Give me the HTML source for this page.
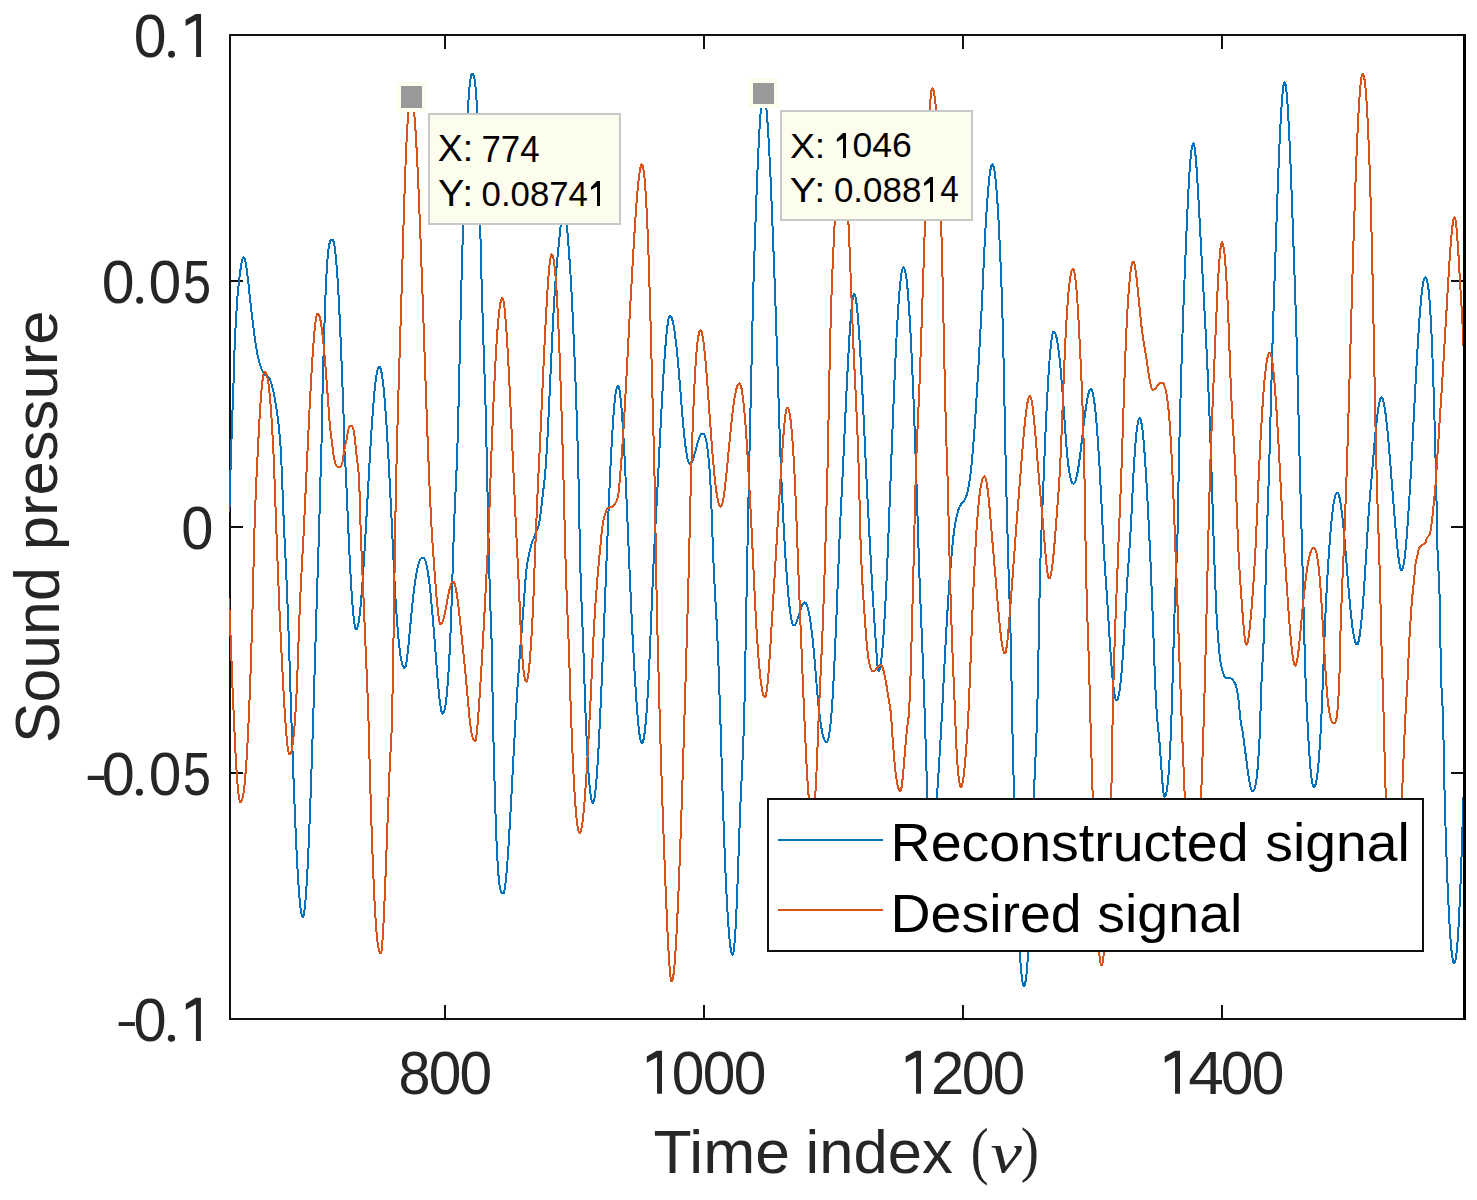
<!DOCTYPE html><html><head><meta charset="utf-8"><style>html,body{margin:0;padding:0;background:#fff;}svg{display:block;}</style></head><body><svg width="1477" height="1200" viewBox="0 0 1477 1200">
<rect width="1477" height="1200" fill="#fff"/>
<defs><clipPath id="pc"><rect x="229" y="35" width="1234" height="984"/></clipPath></defs>
<g fill="#101010" shape-rendering="crispEdges">
<rect x="229" y="34" width="1235" height="2"/>
<rect x="229" y="1018" width="1235" height="2"/>
<rect x="229" y="34" width="2" height="986"/>
<rect x="1463" y="34" width="3" height="986" fill="#000"/>
<rect x="231" y="280" width="12" height="2"/>
<rect x="1451" y="280" width="12" height="2"/>
<rect x="231" y="526" width="12" height="2"/>
<rect x="1451" y="526" width="12" height="2"/>
<rect x="231" y="772" width="12" height="2"/>
<rect x="1451" y="772" width="12" height="2"/>
<rect x="444" y="1005" width="2" height="13"/>
<rect x="444" y="36" width="2" height="13"/>
<rect x="703" y="1005" width="2" height="13"/>
<rect x="703" y="36" width="2" height="13"/>
<rect x="962" y="1005" width="2" height="13"/>
<rect x="962" y="36" width="2" height="13"/>
<rect x="1221" y="1005" width="2" height="13"/>
<rect x="1221" y="36" width="2" height="13"/>
</g>
<g clip-path="url(#pc)" fill="none" stroke-width="2.0" stroke-linejoin="round" shape-rendering="crispEdges">
<path stroke="#0072BD" d="M229.00 512.00L229.39 509.49L229.79 501.19L230.18 485.28L230.58 467.23L230.97 454.65L231.37 443.46L231.76 431.67L232.16 420.29L232.55 409.19L232.95 398.85L233.34 388.22L233.74 375.75L234.13 362.28L234.52 349.33L234.92 338.28L235.31 330.83L235.71 324.71L236.10 318.20L236.50 310.99L236.89 304.30L237.29 298.86L237.68 294.18L238.08 289.97L238.47 286.01L238.86 282.41L239.26 279.12L239.65 276.00L240.05 272.92L240.44 269.98L240.84 267.28L241.23 264.83L241.63 262.68L242.02 260.83L242.42 259.34L242.81 258.23L243.21 257.54L243.60 257.30L244.00 257.53L244.40 258.22L244.80 259.32L245.20 260.82L245.60 262.68L246.00 264.87L246.40 267.36L246.79 270.13L247.19 273.13L247.59 276.33L247.99 279.70L248.39 283.21L248.79 286.82L249.19 290.51L249.59 294.24L249.99 297.97L250.39 301.69L250.79 305.36L251.19 308.94L251.59 312.42L251.99 315.77L252.39 319.00L252.78 322.22L253.18 325.41L253.58 328.57L253.98 331.68L254.38 334.73L254.78 337.70L255.18 340.57L255.58 343.34L255.98 345.99L256.38 348.51L256.78 350.88L257.18 353.08L257.58 355.11L257.98 356.95L258.38 358.59L258.77 360.13L259.17 361.60L259.57 363.01L259.97 364.35L260.37 365.62L260.77 366.82L261.17 367.95L261.57 369.00L261.97 369.96L262.37 370.85L262.77 371.65L263.17 372.37L263.57 373.00L263.97 373.54L264.36 374.02L264.76 374.44L265.16 374.81L265.56 375.15L265.96 375.45L266.36 375.74L266.76 376.03L267.16 376.32L267.56 376.63L267.96 376.97L268.36 377.35L268.76 377.77L269.16 378.26L269.56 378.82L269.96 379.47L270.35 380.30L270.75 381.31L271.15 382.50L271.55 383.85L271.95 385.34L272.35 386.96L272.75 388.70L273.15 390.54L273.55 392.47L273.95 394.48L274.35 396.54L274.75 398.65L275.15 400.79L275.55 403.00L275.95 405.31L276.34 407.73L276.74 410.30L277.14 413.03L277.54 415.94L277.94 419.06L278.34 422.41L278.74 426.00L279.14 429.88L279.54 434.06L279.94 438.56L280.34 443.49L280.74 449.73L281.14 457.31L281.54 465.99L281.94 475.49L282.33 485.53L282.73 495.80L283.13 506.01L283.53 515.81L283.93 524.93L284.33 533.60L284.73 542.03L285.13 550.33L285.53 558.63L285.93 567.03L286.33 575.64L286.73 584.60L287.13 594.00L287.53 603.96L287.93 614.56L288.32 625.74L288.72 637.39L289.12 649.40L289.52 661.67L289.92 674.08L290.32 686.52L290.72 698.89L291.12 711.09L291.52 723.01L291.92 734.60L292.32 745.99L292.72 757.16L293.12 768.12L293.52 778.84L293.91 789.29L294.31 799.46L294.71 809.34L295.11 818.90L295.51 828.13L295.91 837.00L296.31 845.50L296.71 853.61L297.11 861.32L297.51 868.59L297.91 875.43L298.31 881.81L298.71 887.71L299.11 893.11L299.51 898.01L299.90 902.38L300.30 906.21L300.70 909.49L301.10 912.20L301.50 914.33L301.90 915.86L302.30 916.79L302.70 917.10L303.09 916.75L303.49 915.70L303.88 913.97L304.28 911.57L304.67 908.52L305.07 904.82L305.46 900.50L305.86 895.57L306.25 890.04L306.65 883.95L307.04 877.29L307.44 870.11L307.83 862.40L308.23 854.21L308.62 845.54L309.01 836.42L309.41 826.87L309.80 816.91L310.20 806.56L310.59 795.85L310.99 784.80L311.38 773.44L311.78 761.78L312.17 749.85L312.57 737.68L312.96 725.30L313.36 712.74L313.75 700.03L314.15 687.20L314.54 674.28L314.93 661.31L315.33 648.30L315.72 635.29L316.12 622.31L316.51 609.39L316.91 596.62L317.30 584.34L317.70 572.37L318.09 560.48L318.49 548.41L318.88 535.94L319.28 522.82L319.67 508.63L320.07 493.60L320.46 478.66L320.85 464.85L321.25 452.79L321.64 439.02L322.04 417.50L322.43 397.74L322.83 381.72L323.22 366.44L323.62 351.95L324.01 338.33L324.41 325.61L324.80 313.84L325.20 303.03L325.59 293.21L325.99 284.36L326.38 276.48L326.77 269.54L327.17 263.50L327.56 258.33L327.96 253.96L328.35 250.33L328.75 247.39L329.14 245.05L329.54 243.26L329.93 241.92L330.33 240.96L330.72 240.33L331.12 239.93L331.51 239.72L331.91 239.62L332.30 239.60L332.70 239.80L333.10 240.42L333.50 241.48L333.90 242.98L334.30 244.94L334.69 247.37L335.09 250.28L335.49 253.67L335.89 257.56L336.29 261.93L336.69 266.80L337.09 272.16L337.49 278.00L337.89 284.32L338.29 291.11L338.69 298.35L339.09 306.03L339.49 314.14L339.88 322.65L340.28 331.54L340.68 340.78L341.08 350.35L341.48 360.23L341.88 370.37L342.28 380.76L342.68 391.34L343.08 402.07L343.48 412.87L343.88 427.67L344.27 446.01L344.67 454.59L345.07 460.51L345.47 466.09L345.87 473.39L346.27 481.93L346.67 491.11L347.07 500.61L347.47 510.09L347.87 519.27L348.27 528.12L348.67 536.83L349.06 545.36L349.46 553.65L349.86 561.66L350.26 569.33L350.66 576.63L351.06 583.52L351.46 589.99L351.86 596.03L352.26 601.62L352.66 606.75L353.06 611.39L353.46 615.53L353.86 619.15L354.25 622.25L354.65 624.80L355.05 626.80L355.45 628.24L355.85 629.11L356.25 629.40L356.65 629.20L357.04 628.60L357.44 627.60L357.83 626.20L358.23 624.41L358.62 622.24L359.02 619.68L359.42 616.76L359.81 613.48L360.21 609.84L360.60 605.87L361.00 601.57L361.39 596.95L361.79 592.03L362.19 586.83L362.58 581.36L362.98 575.63L363.37 569.65L363.77 563.46L364.16 557.06L364.56 550.49L364.96 543.78L365.35 536.95L365.75 530.02L366.14 523.02L366.54 515.98L366.93 508.89L367.33 501.77L367.73 494.65L368.12 487.54L368.52 480.47L368.91 473.46L369.31 466.53L369.70 459.70L370.10 452.98L370.49 446.41L370.89 439.99L371.29 433.74L371.68 427.69L372.08 421.85L372.47 416.23L372.87 410.85L373.26 405.73L373.66 400.88L374.06 396.32L374.45 392.04L374.85 388.08L375.24 384.42L375.64 381.10L376.03 378.10L376.43 375.44L376.83 373.13L377.22 371.17L377.62 369.56L378.01 368.31L378.41 367.41L378.80 366.88L379.20 366.70L379.60 366.87L379.99 367.38L380.39 368.23L380.79 369.43L381.18 370.99L381.58 372.90L381.98 375.17L382.38 377.79L382.77 380.76L383.17 384.09L383.57 387.76L383.96 391.77L384.36 396.13L384.76 400.81L385.15 405.81L385.55 411.12L385.95 416.73L386.34 422.63L386.74 428.80L387.14 435.23L387.53 441.91L387.93 448.81L388.33 455.93L388.73 463.23L389.12 470.71L389.52 478.34L389.92 486.10L390.31 493.97L390.71 501.92L391.11 509.94L391.50 518.00L391.90 526.10L392.30 534.42L392.69 542.88L393.09 551.39L393.49 559.84L393.88 568.13L394.28 576.18L394.68 583.90L395.07 591.21L395.47 598.04L395.87 604.36L396.27 610.32L396.66 616.00L397.06 621.41L397.46 626.52L397.85 631.34L398.25 635.85L398.65 640.05L399.04 643.94L399.44 647.51L399.84 650.78L400.23 653.74L400.63 656.39L401.03 658.74L401.43 660.79L401.82 662.56L402.22 664.06L402.62 665.29L403.01 666.27L403.41 667.00L403.81 667.51L404.20 667.81L404.60 667.90L405.00 667.61L405.40 666.77L405.79 665.39L406.19 663.51L406.59 661.16L406.99 658.40L407.38 655.27L407.78 651.82L408.18 648.09L408.58 644.14L408.98 640.03L409.37 635.79L409.77 631.49L410.17 627.16L410.57 622.85L410.97 618.60L411.36 614.44L411.76 610.40L412.16 606.50L412.56 602.78L412.95 599.18L413.35 595.67L413.75 592.27L414.15 589.00L414.55 585.87L414.94 582.88L415.34 580.06L415.74 577.40L416.14 574.92L416.53 572.61L416.93 570.48L417.33 568.53L417.73 566.76L418.13 565.17L418.52 563.75L418.92 562.50L419.32 561.41L419.72 560.48L420.12 559.70L420.51 559.05L420.91 558.53L421.31 558.13L421.71 557.84L422.10 557.64L422.50 557.53L422.90 557.50L423.30 557.58L423.69 557.82L424.09 558.24L424.48 558.84L424.88 559.63L425.28 560.61L425.67 561.79L426.07 563.18L426.46 564.77L426.86 566.58L427.26 568.61L427.65 570.86L428.05 573.32L428.44 576.00L428.84 578.89L429.24 581.99L429.63 585.30L430.03 588.81L430.42 592.52L430.82 596.40L431.22 600.47L431.61 604.69L432.01 609.07L432.40 613.58L432.80 618.21L433.20 622.94L433.59 627.77L433.99 632.71L434.38 637.73L434.78 642.82L435.18 647.96L435.57 653.10L435.97 658.24L436.36 663.33L436.76 668.36L437.16 673.28L437.55 678.07L437.95 682.69L438.34 687.12L438.74 691.31L439.14 695.24L439.53 698.87L439.93 702.17L440.32 705.12L440.72 707.67L441.12 709.81L441.51 711.51L441.91 712.74L442.30 713.50L442.70 713.75L443.10 713.60L443.49 713.15L443.89 712.36L444.28 711.21L444.68 709.69L445.08 707.77L445.47 705.44L445.87 702.67L446.26 699.45L446.66 695.76L447.06 691.60L447.45 686.95L447.85 681.81L448.24 676.16L448.64 670.01L449.04 663.35L449.43 656.18L449.83 648.51L450.22 640.23L450.62 630.87L451.01 620.44L451.41 609.10L451.81 597.00L452.20 584.36L452.60 571.42L452.99 558.45L453.39 545.77L453.79 533.66L454.18 522.47L454.58 512.43L454.97 503.35L455.37 494.89L455.77 486.69L456.16 478.35L456.56 469.48L456.95 459.67L457.35 448.50L457.75 435.63L458.14 421.20L458.54 405.50L458.93 388.85L459.33 371.55L459.73 353.95L460.12 336.38L460.52 319.17L460.91 302.63L461.31 287.07L461.71 272.61L462.10 258.75L462.50 245.39L462.89 232.51L463.29 220.10L463.69 208.17L464.08 196.71L464.48 185.70L464.87 175.14L465.27 165.04L465.66 155.38L466.06 146.17L466.46 137.42L466.85 129.13L467.25 121.31L467.64 113.99L468.04 107.19L468.44 100.97L468.83 95.36L469.23 90.37L469.62 86.00L470.02 82.29L470.42 79.23L470.81 76.84L471.21 75.13L471.60 74.10L472.00 73.75L472.40 73.82L472.79 74.10L473.19 74.64L473.58 75.53L473.98 76.84L474.38 78.65L474.77 81.03L475.17 84.04L475.57 87.74L475.96 92.17L476.36 97.38L476.75 103.39L477.15 110.22L477.55 118.17L477.94 128.49L478.34 141.28L478.74 156.38L479.13 173.45L479.53 191.97L479.92 211.21L480.32 230.32L480.72 248.34L481.11 264.33L481.51 279.04L481.91 293.03L482.30 306.41L482.70 319.36L483.09 332.05L483.49 344.68L483.89 356.72L484.28 367.86L484.68 378.79L485.07 390.25L485.47 402.96L485.87 417.78L486.26 434.90L486.66 453.22L487.06 471.56L487.45 489.21L487.85 507.23L488.24 525.35L488.64 543.17L489.04 560.31L489.43 576.38L489.83 591.02L490.23 603.24L490.62 613.59L491.02 623.65L491.41 634.92L491.81 648.84L492.21 669.91L492.60 697.87L493.00 719.42L493.39 736.68L493.79 753.16L494.19 768.79L494.58 783.50L494.98 797.25L495.38 810.00L495.77 821.74L496.17 832.44L496.56 842.12L496.96 850.79L497.36 858.46L497.75 865.18L498.15 870.98L498.55 875.93L498.94 880.08L499.34 883.49L499.73 886.24L500.13 888.41L500.53 890.06L500.92 891.27L501.32 892.13L501.72 892.69L502.11 893.03L502.51 893.21L502.90 893.28L503.30 893.30L503.70 892.95L504.10 891.93L504.49 890.27L504.89 888.01L505.29 885.19L505.69 881.84L506.08 877.99L506.48 873.70L506.88 868.98L507.28 863.87L507.67 858.41L508.07 852.64L508.47 846.57L508.87 840.25L509.27 833.70L509.66 826.95L510.06 820.04L510.46 812.98L510.86 805.79L511.25 798.52L511.65 791.17L512.05 783.78L512.45 776.35L512.84 768.92L513.24 761.49L513.64 754.09L514.04 746.73L514.44 739.43L514.83 732.20L515.23 725.05L515.63 718.01L516.03 711.09L516.42 704.44L516.82 698.05L517.22 691.89L517.62 685.93L518.01 680.14L518.41 674.48L518.81 668.92L519.21 663.42L519.61 657.95L520.00 652.45L520.40 647.07L520.80 641.88L521.20 636.84L521.59 631.89L521.99 626.95L522.39 621.96L522.79 616.86L523.18 611.57L523.58 605.99L523.98 600.27L524.38 594.69L524.78 589.08L525.17 583.68L525.57 578.72L525.97 574.35L526.37 570.30L526.76 566.77L527.16 563.92L527.56 561.49L527.96 559.33L528.35 557.37L528.75 555.53L529.15 553.75L529.55 551.97L529.95 550.25L530.34 548.60L530.74 547.04L531.14 545.57L531.54 544.21L531.93 542.96L532.33 541.81L532.73 540.73L533.13 539.70L533.52 538.71L533.92 537.73L534.32 536.74L534.72 535.72L535.12 534.66L535.51 533.61L535.91 532.62L536.31 531.67L536.71 530.72L537.10 529.75L537.50 528.72L537.90 527.60L538.30 526.37L538.70 525.00L539.09 523.45L539.49 521.56L539.89 519.05L540.29 516.13L540.68 513.01L541.08 509.83L541.48 506.33L541.88 502.60L542.27 498.84L542.67 495.24L543.07 491.94L543.47 488.82L543.87 485.66L544.26 482.26L544.66 478.51L545.06 474.46L545.46 469.86L545.85 464.51L546.25 458.61L546.65 452.22L547.05 445.40L547.44 438.17L547.84 430.60L548.24 422.74L548.64 414.62L549.04 406.31L549.43 397.84L549.83 389.28L550.23 380.67L550.63 372.04L551.02 363.46L551.42 354.97L551.82 346.60L552.22 338.40L552.61 330.40L553.01 322.63L553.41 315.14L553.81 307.94L554.21 301.06L554.60 294.52L555.00 288.34L555.40 282.52L555.80 277.11L556.19 272.08L556.59 267.35L556.99 262.86L557.39 258.55L557.78 254.37L558.18 250.28L558.58 246.25L558.98 242.24L559.38 238.24L559.77 234.24L560.17 230.26L560.57 226.31L560.97 222.37L561.36 218.49L561.76 214.83L562.16 211.56L562.56 208.82L562.95 206.75L563.35 205.45L563.75 205.00L564.15 205.41L564.55 206.60L564.95 208.52L565.35 211.11L565.75 214.30L566.15 217.99L566.55 222.09L566.94 226.50L567.34 231.15L567.74 235.99L568.14 241.00L568.54 246.16L568.94 251.49L569.34 256.99L569.74 262.71L570.14 268.67L570.54 274.92L570.94 281.52L571.34 288.52L571.74 296.01L572.14 304.04L572.53 312.40L572.93 320.91L573.33 329.59L573.73 338.47L574.13 347.61L574.53 357.04L574.93 366.80L575.33 376.95L575.73 387.55L576.13 398.64L576.53 410.28L576.93 422.53L577.33 435.44L577.73 449.07L578.13 463.46L578.52 479.18L578.92 498.08L579.32 518.74L579.72 539.32L580.12 558.02L580.52 573.23L580.92 585.99L581.32 597.28L581.72 607.58L582.12 617.33L582.52 626.94L582.92 636.83L583.32 647.36L583.72 658.84L584.12 671.17L584.51 683.76L584.91 696.03L585.31 707.50L585.71 717.78L586.11 727.30L586.51 736.28L586.91 744.70L587.31 752.55L587.71 759.81L588.11 766.49L588.51 772.58L588.91 778.08L589.31 783.00L589.71 787.33L590.10 791.10L590.50 794.30L590.90 796.96L591.30 799.09L591.70 800.70L592.10 801.83L592.50 802.49L592.90 802.70L593.30 802.40L593.69 801.51L594.09 800.04L594.49 798.00L594.88 795.40L595.28 792.25L595.68 788.57L596.07 784.38L596.47 779.69L596.87 774.52L597.27 768.90L597.66 762.83L598.06 756.34L598.46 749.45L598.85 742.18L599.25 734.56L599.65 726.61L600.04 718.35L600.44 709.82L600.84 701.08L601.23 692.14L601.63 683.04L602.03 673.78L602.42 664.36L602.82 654.81L603.22 645.13L603.61 635.34L604.01 625.43L604.41 615.42L604.80 605.31L605.20 595.12L605.60 584.86L606.00 574.57L606.39 564.30L606.79 554.06L607.19 543.90L607.58 533.86L607.98 523.97L608.38 514.26L608.77 504.76L609.17 495.51L609.57 486.54L609.96 477.85L610.36 469.45L610.76 461.37L611.15 453.60L611.55 446.19L611.95 439.14L612.34 432.47L612.74 426.20L613.14 420.33L613.53 414.89L613.93 409.89L614.33 405.33L614.73 401.22L615.12 397.58L615.52 394.42L615.92 391.73L616.31 389.53L616.71 387.81L617.11 386.58L617.50 385.85L617.90 385.60L618.30 385.89L618.70 386.74L619.10 388.16L619.50 390.13L619.90 392.64L620.30 395.69L620.70 399.26L621.10 403.34L621.50 407.91L621.90 412.95L622.30 418.44L622.70 424.38L623.10 430.73L623.50 437.47L623.90 444.59L624.30 452.05L624.70 459.84L625.10 467.93L625.50 476.31L625.90 484.97L626.30 493.88L626.70 503.01L627.10 512.30L627.50 521.72L627.90 531.23L628.30 540.79L628.70 550.34L629.10 559.86L629.50 569.29L629.90 578.59L630.30 587.74L630.70 596.69L631.10 605.41L631.50 613.89L631.90 622.16L632.30 630.20L632.70 638.02L633.10 645.63L633.50 653.03L633.90 660.22L634.30 667.20L634.70 673.98L635.10 680.55L635.50 686.90L635.90 693.03L636.30 698.94L636.70 704.60L637.10 709.97L637.50 715.01L637.90 719.70L638.30 724.01L638.70 727.92L639.10 731.43L639.50 734.51L639.90 737.16L640.30 739.34L640.70 741.06L641.10 742.30L641.50 743.05L641.90 743.30L642.30 743.08L642.69 742.42L643.09 741.31L643.48 739.75L643.88 737.75L644.27 735.28L644.67 732.36L645.07 728.99L645.46 725.17L645.86 720.89L646.25 716.17L646.65 711.01L647.05 705.41L647.44 699.33L647.84 692.69L648.23 685.52L648.63 677.83L649.02 669.68L649.42 661.10L649.82 652.16L650.21 642.92L650.61 633.45L651.00 623.82L651.40 614.12L651.79 604.42L652.19 594.81L652.59 585.36L652.98 576.16L653.38 567.29L653.77 558.78L654.17 550.58L654.56 542.67L654.96 534.98L655.36 527.47L655.75 520.09L656.15 512.78L656.54 505.49L656.94 498.16L657.34 490.75L657.73 483.21L658.13 475.49L658.52 467.54L658.92 459.51L659.31 451.53L659.71 443.62L660.11 435.79L660.50 428.06L660.90 420.44L661.29 412.95L661.69 405.61L662.08 398.42L662.48 391.42L662.88 384.61L663.27 378.01L663.67 371.64L664.06 365.52L664.46 359.67L664.85 354.10L665.25 348.84L665.65 343.89L666.04 339.29L666.44 335.05L666.83 331.18L667.23 327.70L667.63 324.64L668.02 322.00L668.42 319.81L668.81 318.07L669.21 316.82L669.60 316.06L670.00 315.80L670.40 315.91L670.79 316.26L671.19 316.84L671.58 317.65L671.98 318.71L672.38 320.00L672.77 321.54L673.17 323.32L673.56 325.34L673.96 327.59L674.36 330.08L674.75 332.79L675.15 335.72L675.54 338.87L675.94 342.21L676.34 345.76L676.73 349.49L677.13 353.39L677.52 357.44L677.92 361.65L678.32 365.98L678.71 370.45L679.11 375.06L679.50 379.79L679.90 384.62L680.30 389.51L680.69 394.43L681.09 399.36L681.48 404.27L681.88 409.12L682.28 413.89L682.67 418.55L683.07 423.06L683.46 427.41L683.86 431.57L684.26 435.51L684.65 439.22L685.05 442.71L685.44 445.96L685.84 448.96L686.24 451.72L686.63 454.20L687.03 456.42L687.42 458.35L687.82 459.99L688.22 461.34L688.61 462.39L689.01 463.15L689.40 463.60L689.80 463.75L690.19 463.68L690.58 463.46L690.97 463.10L691.36 462.60L691.75 461.96L692.14 461.20L692.53 460.32L692.92 459.32L693.32 458.22L693.71 457.03L694.10 455.75L694.49 454.41L694.88 453.02L695.27 451.58L695.66 450.11L696.05 448.62L696.44 447.14L696.83 445.67L697.22 444.23L697.61 442.84L698.00 441.50L698.39 440.22L698.78 439.03L699.17 437.93L699.57 436.93L699.96 436.05L700.35 435.29L700.74 434.65L701.13 434.15L701.52 433.79L701.91 433.57L702.30 433.50L702.69 433.53L703.09 433.65L703.48 433.88L703.88 434.24L704.27 434.77L704.67 435.50L705.06 436.44L705.46 437.64L705.85 439.10L706.25 440.86L706.64 442.94L707.04 445.35L707.43 448.11L707.83 451.25L708.22 454.75L708.62 458.64L709.01 462.92L709.41 467.58L709.80 472.74L710.20 479.09L710.59 486.69L710.99 495.47L711.38 505.26L711.78 515.84L712.17 526.94L712.56 538.20L712.96 549.25L713.35 559.66L713.75 568.99L714.14 577.23L714.54 584.79L714.93 591.85L715.33 598.63L715.72 605.34L716.12 612.23L716.51 619.53L716.91 627.50L717.30 636.32L717.70 645.74L718.09 655.64L718.49 666.00L718.88 676.77L719.28 687.90L719.67 699.33L720.07 711.00L720.46 723.00L720.86 735.63L721.25 748.72L721.65 762.01L722.04 775.29L722.44 788.32L722.83 800.89L723.22 812.81L723.62 824.09L724.01 834.98L724.41 845.48L724.80 855.57L725.20 865.22L725.59 874.42L725.99 883.17L726.38 891.43L726.78 899.21L727.17 906.49L727.57 913.27L727.96 919.53L728.36 925.28L728.75 930.52L729.15 935.23L729.54 939.42L729.94 943.09L730.33 946.24L730.73 948.86L731.12 950.99L731.52 952.63L731.91 953.79L732.31 954.47L732.70 954.70L733.10 954.13L733.50 952.44L733.90 949.68L734.30 945.93L734.70 941.29L735.10 935.79L735.50 929.33L735.90 921.93L736.30 913.65L736.70 904.56L737.10 894.76L737.50 884.37L737.90 873.51L738.30 862.33L738.70 850.99L739.10 839.65L739.50 828.47L739.90 817.64L740.30 807.41L740.70 798.04L741.10 789.33L741.50 781.07L741.90 772.99L742.30 764.82L742.70 756.25L743.10 746.98L743.50 736.66L743.90 724.94L744.30 711.36L744.70 694.28L745.10 674.06L745.50 652.01L745.90 629.56L746.30 608.23L746.70 587.58L747.10 566.92L747.50 546.42L747.90 526.29L748.30 506.70L748.70 487.79L749.10 469.49L749.50 451.68L749.90 434.25L750.30 417.05L750.70 399.98L751.10 382.94L751.50 365.80L751.90 348.35L752.30 330.78L752.70 313.63L753.10 297.39L753.50 282.50L753.90 269.12L754.30 256.87L754.70 245.31L755.10 234.08L755.50 222.84L755.90 211.54L756.30 200.60L756.70 190.06L757.10 179.94L757.50 170.27L757.90 161.05L758.30 152.32L758.70 144.10L759.10 136.40L759.50 129.25L759.90 122.67L760.30 116.69L760.70 111.33L761.10 106.60L761.50 102.54L761.90 99.17L762.30 96.50L762.70 94.57L763.10 93.40L763.50 93.00L763.90 93.31L764.30 94.22L764.69 95.73L765.09 97.83L765.49 100.51L765.89 103.75L766.29 107.53L766.68 111.86L767.08 116.70L767.48 122.04L767.88 127.87L768.28 134.17L768.67 140.92L769.07 148.11L769.47 155.71L769.87 163.71L770.27 172.08L770.66 180.81L771.06 189.88L771.46 199.26L771.86 208.94L772.26 218.90L772.65 229.05L773.05 239.33L773.45 249.74L773.85 260.29L774.25 271.02L774.64 281.94L775.04 293.09L775.44 304.48L775.84 316.07L776.24 327.80L776.63 339.66L777.03 351.63L777.43 363.70L777.83 375.96L778.23 388.50L778.62 401.16L779.02 413.75L779.42 426.09L779.82 438.01L780.22 449.36L780.62 459.99L781.01 469.94L781.41 479.37L781.81 488.35L782.21 496.93L782.61 505.17L783.00 513.14L783.40 520.88L783.80 528.43L784.20 535.71L784.60 542.68L784.99 549.34L785.39 555.72L785.79 561.83L786.19 567.67L786.59 573.26L786.98 578.61L787.38 583.71L787.78 588.58L788.18 593.19L788.58 597.52L788.97 601.56L789.37 605.29L789.77 608.73L790.17 611.85L790.57 614.67L790.96 617.16L791.36 619.33L791.76 621.18L792.16 622.69L792.56 623.87L792.95 624.72L793.35 625.23L793.75 625.40L794.14 625.33L794.52 625.11L794.91 624.76L795.30 624.27L795.69 623.64L796.08 622.90L796.46 622.05L796.85 621.09L797.24 620.04L797.62 618.92L798.01 617.73L798.40 616.50L798.79 615.23L799.17 613.95L799.56 612.67L799.95 611.40L800.34 610.17L800.73 608.98L801.11 607.86L801.50 606.81L801.89 605.85L802.27 605.00L802.66 604.26L803.05 603.63L803.44 603.14L803.83 602.79L804.21 602.57L804.60 602.50L805.00 602.58L805.40 602.81L805.79 603.21L806.19 603.79L806.59 604.54L806.99 605.48L807.39 606.61L807.79 607.93L808.18 609.45L808.58 611.16L808.98 613.07L809.38 615.19L809.78 617.50L810.17 620.00L810.57 622.70L810.97 625.59L811.37 628.65L811.77 631.90L812.17 635.31L812.56 638.87L812.96 642.59L813.36 646.53L813.76 650.71L814.16 655.12L814.55 659.71L814.95 664.44L815.35 669.27L815.75 674.15L816.15 679.04L816.55 683.89L816.94 688.65L817.34 693.27L817.74 697.72L818.14 701.96L818.54 705.95L818.93 709.68L819.33 713.12L819.73 716.36L820.13 719.42L820.53 722.29L820.93 724.97L821.32 727.46L821.72 729.74L822.12 731.82L822.52 733.70L822.92 735.38L823.31 736.86L823.71 738.14L824.11 739.24L824.51 740.14L824.91 740.87L825.31 741.42L825.70 741.80L826.10 742.03L826.50 742.10L826.90 741.95L827.29 741.49L827.69 740.69L828.08 739.55L828.48 738.04L828.87 736.16L829.27 733.89L829.67 731.21L830.06 728.12L830.46 724.61L830.85 720.68L831.25 716.31L831.64 711.51L832.04 706.22L832.44 700.33L832.83 693.88L833.23 686.87L833.62 679.35L834.02 671.38L834.41 663.00L834.81 654.31L835.21 645.37L835.60 636.29L836.00 627.10L836.39 617.60L836.79 607.82L837.18 597.82L837.58 587.68L837.98 577.48L838.37 567.30L838.77 557.24L839.16 547.37L839.56 537.78L839.95 528.54L840.35 519.81L840.75 511.62L841.14 503.81L841.54 496.22L841.93 488.66L842.33 480.97L842.72 472.99L843.12 464.56L843.52 455.88L843.91 447.21L844.31 438.55L844.70 429.94L845.10 421.37L845.49 412.87L845.89 404.47L846.29 396.18L846.68 388.02L847.08 380.02L847.47 372.20L847.87 364.59L848.26 357.20L848.66 350.08L849.06 343.24L849.45 336.71L849.85 330.52L850.24 324.71L850.64 319.30L851.03 314.33L851.43 309.82L851.83 305.81L852.22 302.33L852.62 299.41L853.01 297.09L853.41 295.39L853.80 294.35L854.20 294.00L854.60 294.30L855.00 295.17L855.40 296.62L855.79 298.61L856.19 301.13L856.59 304.16L856.99 307.68L857.39 311.66L857.79 316.10L858.18 320.95L858.58 326.21L858.98 331.84L859.38 337.82L859.78 344.14L860.18 350.76L860.57 357.66L860.97 364.82L861.37 372.22L861.77 379.83L862.17 387.62L862.57 395.59L862.96 403.69L863.36 411.92L863.76 420.25L864.16 428.66L864.56 437.13L864.96 445.64L865.35 454.17L865.75 462.70L866.15 471.21L866.55 479.51L866.95 487.60L867.35 495.50L867.74 503.24L868.14 510.85L868.54 518.36L868.94 525.81L869.34 533.22L869.74 540.61L870.13 548.02L870.53 555.46L870.93 562.95L871.33 570.50L871.73 577.81L872.13 584.79L872.52 591.50L872.92 598.02L873.32 604.39L873.72 610.66L874.12 616.87L874.52 623.03L874.91 629.16L875.31 635.23L875.71 641.20L876.11 647.03L876.51 652.61L876.91 658.13L877.30 663.32L877.70 667.55L878.10 670.30L878.50 671.25L878.90 671.03L879.29 670.37L879.69 669.25L880.09 667.68L880.48 665.66L880.88 663.17L881.28 660.23L881.67 656.82L882.07 652.96L882.47 648.65L882.87 643.89L883.26 638.69L883.66 633.06L884.06 626.99L884.45 620.49L884.85 613.56L885.25 606.23L885.64 598.51L886.04 590.42L886.44 581.98L886.83 573.22L887.23 564.16L887.63 554.85L888.02 545.29L888.42 535.45L888.82 525.36L889.21 515.07L889.61 504.65L890.01 494.15L890.40 483.64L890.80 473.19L891.20 462.83L891.60 452.53L891.99 442.28L892.39 432.12L892.79 422.07L893.18 412.16L893.58 402.41L893.98 392.84L894.37 383.50L894.77 374.38L895.17 365.53L895.56 356.96L895.96 348.68L896.36 340.73L896.75 333.12L897.15 325.86L897.55 318.98L897.94 312.48L898.34 306.38L898.74 300.70L899.13 295.44L899.53 290.62L899.93 286.24L900.33 282.31L900.72 278.84L901.12 275.82L901.52 273.27L901.91 271.19L902.31 269.57L902.71 268.42L903.10 267.73L903.50 267.50L903.90 267.70L904.30 268.30L904.70 269.32L905.09 270.75L905.49 272.61L905.89 274.89L906.29 277.61L906.69 280.75L907.09 284.34L907.49 288.36L907.88 292.81L908.28 297.70L908.68 303.02L909.08 308.78L909.48 314.95L909.88 321.55L910.28 328.55L910.67 335.97L911.07 343.78L911.47 351.97L911.87 360.54L912.27 369.48L912.67 378.76L913.07 388.39L913.47 398.33L913.86 408.58L914.26 419.12L914.66 429.94L915.06 441.00L915.46 452.30L915.86 463.82L916.26 475.62L916.65 487.97L917.05 500.74L917.45 513.74L917.85 526.81L918.25 539.74L918.65 552.36L919.05 564.48L919.44 575.94L919.84 586.74L920.24 597.03L920.64 606.94L921.04 616.61L921.44 626.17L921.84 635.77L922.23 645.54L922.63 655.58L923.03 666.01L923.43 676.93L923.83 688.21L924.23 699.77L924.63 711.59L925.03 723.59L925.42 735.72L925.82 748.40L926.22 761.44L926.62 774.14L927.02 785.92L927.42 796.33L927.82 805.36L928.21 813.52L928.61 820.82L929.01 827.27L929.41 832.87L929.81 837.63L930.21 841.57L930.61 844.72L931.00 847.09L931.40 848.74L931.80 849.69L932.20 850.00L932.60 849.46L933.00 847.90L933.39 845.41L933.79 842.08L934.19 838.01L934.59 833.29L934.99 828.03L935.38 822.32L935.78 816.27L936.18 809.98L936.58 803.55L936.98 797.06L937.37 790.61L937.77 784.21L938.17 777.87L938.57 771.57L938.97 765.28L939.36 758.98L939.76 752.61L940.16 746.11L940.56 739.42L940.96 732.48L941.35 725.26L941.75 717.84L942.15 710.25L942.55 702.53L942.95 694.71L943.34 686.83L943.74 678.93L944.14 671.07L944.54 663.28L944.94 655.60L945.33 648.09L945.73 640.80L946.13 633.76L946.53 626.96L946.93 620.25L947.32 613.65L947.72 607.19L948.12 600.88L948.52 594.75L948.92 588.83L949.31 583.14L949.71 577.71L950.11 572.56L950.51 567.70L950.91 562.97L951.30 558.32L951.70 553.79L952.10 549.41L952.50 545.22L952.90 541.24L953.29 537.52L953.69 534.09L954.09 530.97L954.49 528.21L954.89 525.75L955.28 523.42L955.68 521.20L956.08 519.11L956.48 517.15L956.88 515.32L957.27 513.64L957.67 512.10L958.07 510.73L958.47 509.51L958.87 508.46L959.26 507.53L959.66 506.70L960.06 505.96L960.46 505.29L960.86 504.68L961.25 504.13L961.65 503.60L962.05 503.11L962.45 502.63L962.85 502.14L963.25 501.65L963.64 501.13L964.04 500.57L964.44 499.97L964.84 499.30L965.24 498.56L965.63 497.73L966.03 496.81L966.43 495.75L966.83 494.47L967.23 492.95L967.62 491.23L968.02 489.33L968.42 487.27L968.82 485.08L969.22 482.79L969.61 480.39L970.01 477.70L970.41 474.71L970.81 471.43L971.21 467.84L971.60 463.97L972.00 459.84L972.40 455.47L972.80 450.87L973.20 446.04L973.59 441.01L973.99 435.77L974.39 430.33L974.79 424.70L975.19 418.89L975.58 412.92L975.98 406.78L976.38 400.50L976.78 394.08L977.18 387.53L977.57 380.87L977.97 374.11L978.37 367.26L978.77 360.33L979.17 353.33L979.56 346.28L979.96 339.20L980.36 332.08L980.76 324.96L981.16 317.62L981.55 309.83L981.95 301.67L982.35 293.26L982.75 284.69L983.15 276.06L983.54 267.47L983.94 259.01L984.34 250.75L984.74 242.77L985.14 235.14L985.53 227.90L985.93 221.12L986.33 214.74L986.73 208.69L987.13 202.95L987.52 197.56L987.92 192.52L988.32 187.85L988.72 183.56L989.12 179.67L989.51 176.19L989.91 173.13L990.31 170.51L990.71 168.34L991.11 166.63L991.50 165.40L991.90 164.65L992.30 164.40L992.70 164.61L993.09 165.25L993.49 166.33L993.88 167.85L994.28 169.82L994.68 172.25L995.07 175.15L995.47 178.51L995.87 182.35L996.26 186.66L996.66 191.46L997.05 196.73L997.45 202.48L997.85 208.71L998.24 215.41L998.64 222.58L999.04 230.10L999.43 237.97L999.83 246.23L1000.22 254.94L1000.62 264.15L1001.02 273.95L1001.41 284.42L1001.81 295.65L1002.21 307.75L1002.60 320.82L1003.00 335.31L1003.39 351.85L1003.79 370.08L1004.19 389.49L1004.58 409.52L1004.98 429.55L1005.38 448.88L1005.77 466.82L1006.17 483.30L1006.56 498.97L1006.96 514.01L1007.36 528.62L1007.75 543.01L1008.15 557.05L1008.55 569.94L1008.94 582.05L1009.34 593.92L1009.74 606.06L1010.13 618.98L1010.53 633.19L1010.92 649.18L1011.32 669.16L1011.72 693.34L1012.11 715.62L1012.51 734.25L1012.90 751.40L1013.30 767.45L1013.70 782.79L1014.09 797.76L1014.49 812.41L1014.89 826.50L1015.28 840.03L1015.68 853.00L1016.08 865.38L1016.47 877.19L1016.87 888.40L1017.26 899.02L1017.66 909.04L1018.06 918.45L1018.45 927.26L1018.85 935.46L1019.25 943.04L1019.64 950.02L1020.04 956.37L1020.43 962.09L1020.83 967.19L1021.23 971.66L1021.62 975.51L1022.02 978.75L1022.41 981.38L1022.81 983.42L1023.21 984.86L1023.60 985.72L1024.00 986.00L1024.40 985.70L1024.79 984.79L1025.19 983.26L1025.59 981.11L1025.98 978.33L1026.38 974.92L1026.78 970.86L1027.17 966.16L1027.57 960.82L1027.97 954.83L1028.36 948.17L1028.76 940.68L1029.16 932.33L1029.55 923.16L1029.95 913.20L1030.35 902.53L1030.74 891.26L1031.14 879.47L1031.54 867.31L1031.93 854.91L1032.33 842.42L1032.73 830.00L1033.12 817.81L1033.52 806.00L1033.92 794.78L1034.31 784.55L1034.71 775.14L1035.11 766.22L1035.50 757.42L1035.90 748.33L1036.30 738.57L1036.69 727.71L1037.09 715.34L1037.49 700.29L1037.88 682.24L1038.28 662.14L1038.68 641.02L1039.07 619.92L1039.47 599.88L1039.87 581.88L1040.26 566.80L1040.66 553.91L1041.06 542.26L1041.45 531.55L1041.85 521.49L1042.25 511.78L1042.64 502.17L1043.04 492.40L1043.44 482.29L1043.83 472.25L1044.23 462.44L1044.63 452.87L1045.02 443.55L1045.42 434.51L1045.82 425.75L1046.21 417.29L1046.61 409.15L1047.01 401.33L1047.40 393.86L1047.80 386.74L1048.20 379.99L1048.59 373.63L1048.99 367.66L1049.39 362.11L1049.78 356.97L1050.18 352.27L1050.58 348.02L1050.97 344.23L1051.37 340.91L1051.77 338.08L1052.16 335.73L1052.56 333.89L1052.96 332.57L1053.35 331.77L1053.75 331.50L1054.14 331.62L1054.54 331.97L1054.93 332.57L1055.33 333.41L1055.72 334.52L1056.12 335.88L1056.52 337.51L1056.91 339.40L1057.31 341.55L1057.70 343.97L1058.10 346.65L1058.49 349.59L1058.88 352.77L1059.28 356.20L1059.67 359.87L1060.07 363.75L1060.46 367.85L1060.86 372.14L1061.26 376.61L1061.65 381.24L1062.05 386.02L1062.44 390.99L1062.84 396.21L1063.23 401.65L1063.62 407.24L1064.02 412.93L1064.41 418.65L1064.81 424.34L1065.20 429.95L1065.60 435.41L1065.99 440.65L1066.39 445.64L1066.79 450.33L1067.18 454.68L1067.58 458.67L1067.97 462.28L1068.37 465.51L1068.76 468.42L1069.15 471.06L1069.55 473.43L1069.94 475.54L1070.34 477.38L1070.73 478.97L1071.13 480.31L1071.53 481.42L1071.92 482.29L1072.32 482.95L1072.71 483.40L1073.11 483.67L1073.50 483.75L1073.89 483.64L1074.29 483.31L1074.68 482.76L1075.07 481.99L1075.47 481.01L1075.86 479.81L1076.25 478.41L1076.65 476.80L1077.04 474.99L1077.43 472.99L1077.83 470.81L1078.22 468.45L1078.61 465.93L1079.00 463.25L1079.40 460.43L1079.79 457.49L1080.18 454.44L1080.58 451.30L1080.97 448.08L1081.36 444.79L1081.76 441.45L1082.15 438.09L1082.54 434.71L1082.94 431.33L1083.33 427.98L1083.72 424.66L1084.12 421.40L1084.51 418.21L1084.90 415.11L1085.30 412.11L1085.69 409.24L1086.08 406.50L1086.47 403.92L1086.87 401.51L1087.26 399.28L1087.65 397.24L1088.05 395.41L1088.44 393.80L1088.83 392.42L1089.23 391.27L1089.62 390.37L1090.01 389.72L1090.41 389.33L1090.80 389.20L1091.20 389.36L1091.59 389.83L1091.99 390.62L1092.38 391.74L1092.78 393.19L1093.17 394.97L1093.57 397.08L1093.96 399.53L1094.36 402.30L1094.75 405.41L1095.15 408.84L1095.54 412.59L1095.94 416.66L1096.34 421.05L1096.73 425.74L1097.13 430.72L1097.52 436.00L1097.92 441.55L1098.31 447.37L1098.71 453.44L1099.10 459.75L1099.50 466.29L1099.89 473.10L1100.29 480.31L1100.68 487.86L1101.08 495.68L1101.48 503.66L1101.87 511.73L1102.27 519.79L1102.66 527.74L1103.06 535.49L1103.45 542.94L1103.85 550.00L1104.24 556.65L1104.64 562.93L1105.03 568.93L1105.43 574.73L1105.82 580.39L1106.22 586.00L1106.62 591.63L1107.01 597.34L1107.41 603.20L1107.80 609.25L1108.20 615.52L1108.59 621.89L1108.99 628.28L1109.38 634.66L1109.78 640.94L1110.17 647.08L1110.57 653.02L1110.96 658.72L1111.36 664.11L1111.76 669.18L1112.15 673.88L1112.55 678.24L1112.94 682.26L1113.34 685.92L1113.73 689.20L1114.13 692.10L1114.52 694.58L1114.92 696.65L1115.31 698.27L1115.71 699.45L1116.10 700.16L1116.50 700.40L1116.90 700.24L1117.30 699.75L1117.69 698.92L1118.09 697.75L1118.49 696.23L1118.89 694.36L1119.29 692.14L1119.69 689.56L1120.08 686.62L1120.48 683.33L1120.88 679.67L1121.28 675.67L1121.68 671.30L1122.08 666.49L1122.47 661.23L1122.87 655.55L1123.27 649.48L1123.67 643.07L1124.07 636.37L1124.47 629.46L1124.86 622.39L1125.26 615.25L1125.66 608.10L1126.06 601.03L1126.46 594.11L1126.86 587.44L1127.25 581.11L1127.65 575.09L1128.05 569.29L1128.45 563.62L1128.85 557.97L1129.24 552.25L1129.64 546.37L1130.04 540.23L1130.44 533.74L1130.84 526.82L1131.24 519.33L1131.63 511.35L1132.03 503.09L1132.43 494.77L1132.83 486.59L1133.23 478.74L1133.63 471.36L1134.02 464.61L1134.42 458.37L1134.82 452.53L1135.22 447.10L1135.62 442.10L1136.02 437.55L1136.41 433.46L1136.81 429.83L1137.21 426.69L1137.61 424.02L1138.01 421.85L1138.41 420.16L1138.80 418.96L1139.20 418.24L1139.60 418.00L1140.00 418.23L1140.39 418.93L1140.79 420.09L1141.18 421.71L1141.58 423.78L1141.97 426.29L1142.37 429.23L1142.76 432.59L1143.16 436.37L1143.55 440.54L1143.95 445.11L1144.34 450.05L1144.74 455.35L1145.13 461.00L1145.53 466.98L1145.92 473.23L1146.32 479.73L1146.71 486.48L1147.11 493.46L1147.50 500.66L1147.90 508.08L1148.30 515.72L1148.69 523.57L1149.09 531.62L1149.48 539.88L1149.88 548.35L1150.27 557.02L1150.67 565.89L1151.06 574.96L1151.46 584.22L1151.85 593.70L1152.25 603.72L1152.64 614.22L1153.04 625.05L1153.43 636.02L1153.83 646.97L1154.22 657.73L1154.62 668.15L1155.01 678.06L1155.41 687.36L1155.80 695.91L1156.20 703.62L1156.60 710.42L1156.99 716.24L1157.39 720.98L1157.78 724.95L1158.18 728.54L1158.57 732.12L1158.97 736.02L1159.36 740.52L1159.76 745.63L1160.15 751.03L1160.55 756.62L1160.94 762.30L1161.34 767.97L1161.73 773.50L1162.13 778.77L1162.52 783.64L1162.92 787.97L1163.31 791.60L1163.71 794.39L1164.10 796.17L1164.50 796.80L1164.90 796.66L1165.30 796.19L1165.70 795.34L1166.10 794.06L1166.50 792.30L1166.90 790.02L1167.30 787.18L1167.70 783.73L1168.10 779.65L1168.50 774.92L1168.90 769.51L1169.30 763.41L1169.70 756.63L1170.10 749.15L1170.50 741.00L1170.90 731.52L1171.30 720.64L1171.70 709.23L1172.10 696.85L1172.50 683.54L1172.90 669.57L1173.30 655.25L1173.70 640.93L1174.10 627.02L1174.50 613.90L1174.90 602.09L1175.30 591.74L1175.70 582.32L1176.10 573.23L1176.50 563.86L1176.90 553.56L1177.30 541.67L1177.70 527.50L1178.10 507.15L1178.50 483.02L1178.90 463.30L1179.30 446.00L1179.70 429.53L1180.10 413.85L1180.50 398.93L1180.90 384.71L1181.30 371.15L1181.70 358.19L1182.10 345.78L1182.50 333.86L1182.90 322.37L1183.30 311.27L1183.70 300.51L1184.10 290.05L1184.50 279.83L1184.90 269.83L1185.30 260.01L1185.70 250.36L1186.10 240.86L1186.50 231.50L1186.90 222.28L1187.30 213.30L1187.70 204.76L1188.10 196.71L1188.50 189.15L1188.90 182.11L1189.30 175.60L1189.70 169.65L1190.10 164.28L1190.50 159.49L1190.90 155.30L1191.30 151.73L1191.70 148.79L1192.10 146.48L1192.50 144.83L1192.90 143.83L1193.30 143.50L1193.70 143.90L1194.09 145.10L1194.49 147.06L1194.89 149.76L1195.29 153.15L1195.68 157.19L1196.08 161.82L1196.48 167.01L1196.88 172.69L1197.27 178.80L1197.67 185.29L1198.07 192.08L1198.47 199.12L1198.86 206.34L1199.26 213.68L1199.66 221.06L1200.05 228.46L1200.45 235.87L1200.85 243.25L1201.25 250.62L1201.64 257.96L1202.04 265.27L1202.44 272.55L1202.84 279.81L1203.23 287.07L1203.63 294.33L1204.03 301.60L1204.42 308.91L1204.82 316.28L1205.22 323.72L1205.62 331.25L1206.01 338.91L1206.41 346.71L1206.81 354.69L1207.21 362.86L1207.60 371.26L1208.00 379.91L1208.40 388.85L1208.80 398.09L1209.19 407.68L1209.59 417.62L1209.99 427.96L1210.38 438.84L1210.78 450.31L1211.18 462.28L1211.58 474.61L1211.97 487.18L1212.37 499.86L1212.77 512.52L1213.17 525.04L1213.56 537.30L1213.96 549.16L1214.36 560.54L1214.76 571.30L1215.15 581.45L1215.55 591.55L1215.95 601.38L1216.34 610.49L1216.74 618.48L1217.14 624.97L1217.54 630.60L1217.93 635.95L1218.33 641.00L1218.73 645.71L1219.13 650.06L1219.52 654.03L1219.92 657.59L1220.32 660.72L1220.71 663.40L1221.11 665.61L1221.51 667.34L1221.91 668.88L1222.30 670.35L1222.70 671.72L1223.10 672.98L1223.50 674.11L1223.89 675.11L1224.29 675.96L1224.69 676.64L1225.09 677.14L1225.48 677.45L1225.88 677.59L1226.28 677.70L1226.67 677.79L1227.07 677.86L1227.47 677.92L1227.87 677.97L1228.26 678.01L1228.66 678.05L1229.06 678.10L1229.46 678.15L1229.85 678.21L1230.25 678.29L1230.65 678.39L1231.04 678.52L1231.44 678.70L1231.84 678.96L1232.24 679.30L1232.63 679.72L1233.03 680.20L1233.43 680.75L1233.83 681.36L1234.22 682.03L1234.62 682.75L1235.02 683.53L1235.42 684.39L1235.81 685.53L1236.21 686.96L1236.61 688.64L1237.00 690.56L1237.40 692.68L1237.80 694.98L1238.20 697.44L1238.59 700.19L1238.99 704.03L1239.39 708.55L1239.79 713.16L1240.18 717.33L1240.58 720.57L1240.98 723.03L1241.38 725.12L1241.77 727.08L1242.17 729.15L1242.57 731.58L1242.96 734.32L1243.36 737.15L1243.76 740.05L1244.16 743.01L1244.55 746.02L1244.95 749.07L1245.35 752.15L1245.75 755.23L1246.14 758.32L1246.54 761.38L1246.94 764.42L1247.33 767.40L1247.73 770.31L1248.13 773.13L1248.53 775.83L1248.92 778.41L1249.32 780.83L1249.72 783.07L1250.12 785.10L1250.51 786.90L1250.91 788.44L1251.31 789.69L1251.71 790.62L1252.10 791.20L1252.50 791.40L1252.90 791.34L1253.29 791.15L1253.69 790.77L1254.09 790.16L1254.48 789.29L1254.88 788.10L1255.27 786.56L1255.67 784.62L1256.07 782.26L1256.46 779.43L1256.86 776.11L1257.26 772.28L1257.65 767.92L1258.05 763.02L1258.44 757.57L1258.84 751.56L1259.24 744.73L1259.63 735.96L1260.03 725.45L1260.43 713.75L1260.82 701.57L1261.22 689.85L1261.61 679.66L1262.01 671.22L1262.41 663.77L1262.80 656.79L1263.20 649.71L1263.60 641.90L1263.99 632.69L1264.39 621.86L1264.79 609.69L1265.18 596.46L1265.58 582.49L1265.97 568.14L1266.37 553.79L1266.77 539.85L1267.16 526.74L1267.56 514.52L1267.96 502.83L1268.35 491.26L1268.75 479.40L1269.14 466.84L1269.54 453.33L1269.94 439.11L1270.33 424.37L1270.73 409.34L1271.13 394.22L1271.52 379.23L1271.92 364.57L1272.31 350.45L1272.71 336.96L1273.11 323.97L1273.50 311.39L1273.90 299.15L1274.30 287.18L1274.69 275.42L1275.09 263.81L1275.49 252.28L1275.88 240.81L1276.28 229.34L1276.67 217.86L1277.07 206.54L1277.47 195.52L1277.86 184.81L1278.26 174.46L1278.66 164.48L1279.05 154.92L1279.45 145.79L1279.84 137.14L1280.24 128.99L1280.64 121.38L1281.03 114.35L1281.43 107.91L1281.83 102.12L1282.22 96.99L1282.62 92.57L1283.01 88.88L1283.41 85.96L1283.81 83.83L1284.20 82.54L1284.60 82.10L1285.00 82.54L1285.40 83.86L1285.80 86.01L1286.20 88.98L1286.60 92.72L1287.00 97.20L1287.40 102.40L1287.79 108.28L1288.19 114.80L1288.59 121.94L1288.99 129.65L1289.39 137.90L1289.79 146.67L1290.19 155.91L1290.59 165.60L1290.99 175.70L1291.39 186.18L1291.79 197.01L1292.19 208.16L1292.59 219.60L1292.99 231.14L1293.38 242.58L1293.78 254.00L1294.18 265.45L1294.58 277.01L1294.98 288.76L1295.38 300.81L1295.78 313.24L1296.18 326.18L1296.58 339.72L1296.98 353.99L1297.38 369.10L1297.78 384.89L1298.18 401.14L1298.58 417.63L1298.98 434.14L1299.37 450.44L1299.77 466.30L1300.17 481.49L1300.57 495.86L1300.97 509.77L1301.37 523.61L1301.77 537.79L1302.17 552.67L1302.57 568.42L1302.97 584.66L1303.37 600.95L1303.77 616.85L1304.17 631.97L1304.57 646.37L1304.97 660.34L1305.36 673.19L1305.76 684.37L1306.16 694.11L1306.56 702.91L1306.96 711.17L1307.36 719.21L1307.76 727.08L1308.16 734.51L1308.56 741.50L1308.96 748.03L1309.36 754.09L1309.76 759.67L1310.16 764.76L1310.56 769.35L1310.95 773.43L1311.35 776.99L1311.75 780.02L1312.15 782.52L1312.55 784.47L1312.95 785.87L1313.35 786.72L1313.75 787.00L1314.15 786.89L1314.54 786.55L1314.94 785.94L1315.34 785.02L1315.74 783.75L1316.13 782.12L1316.53 780.08L1316.93 777.61L1317.33 774.68L1317.72 771.29L1318.12 767.42L1318.52 763.05L1318.92 758.18L1319.31 752.82L1319.71 746.96L1320.11 740.63L1320.51 733.84L1320.90 726.62L1321.30 718.98L1321.70 710.35L1322.10 700.68L1322.49 690.46L1322.89 680.21L1323.29 669.97L1323.69 659.42L1324.08 648.80L1324.48 638.34L1324.88 628.25L1325.28 618.76L1325.67 610.01L1326.07 601.74L1326.47 593.86L1326.87 586.37L1327.26 579.23L1327.66 572.45L1328.06 565.98L1328.46 559.82L1328.85 553.94L1329.25 548.33L1329.65 542.97L1330.05 537.85L1330.44 532.96L1330.84 528.28L1331.24 523.86L1331.64 519.73L1332.03 515.89L1332.43 512.35L1332.83 509.11L1333.23 506.16L1333.62 503.51L1334.02 501.16L1334.42 499.10L1334.82 497.34L1335.21 495.86L1335.61 494.67L1336.01 493.75L1336.41 493.11L1336.80 492.73L1337.20 492.60L1337.60 492.75L1337.99 493.18L1338.39 493.92L1338.78 494.94L1339.18 496.25L1339.58 497.85L1339.97 499.74L1340.37 501.90L1340.76 504.33L1341.16 507.02L1341.56 509.97L1341.95 513.15L1342.35 516.57L1342.74 520.21L1343.14 524.05L1343.54 528.08L1343.93 532.30L1344.33 536.70L1344.72 541.26L1345.12 545.96L1345.52 550.78L1345.91 555.68L1346.31 560.64L1346.70 565.63L1347.10 570.62L1347.50 575.57L1347.89 580.47L1348.29 585.29L1348.68 589.99L1349.08 594.56L1349.48 599.01L1349.87 603.33L1350.27 607.50L1350.66 611.50L1351.06 615.32L1351.46 618.96L1351.85 622.38L1352.25 625.59L1352.64 628.58L1353.04 631.32L1353.44 633.82L1353.83 636.08L1354.23 638.07L1354.62 639.80L1355.02 641.27L1355.42 642.47L1355.81 643.41L1356.21 644.07L1356.60 644.47L1357.00 644.60L1357.39 644.40L1357.79 643.81L1358.18 642.82L1358.57 641.45L1358.97 639.71L1359.36 637.59L1359.75 635.12L1360.15 632.29L1360.54 629.13L1360.94 625.65L1361.33 621.85L1361.72 617.75L1362.12 613.37L1362.51 608.72L1362.90 603.82L1363.30 598.69L1363.69 593.33L1364.08 587.73L1364.48 581.86L1364.87 575.74L1365.26 569.42L1365.66 562.94L1366.05 556.36L1366.45 549.72L1366.84 543.08L1367.23 536.49L1367.63 530.01L1368.02 523.69L1368.41 517.57L1368.81 511.69L1369.20 506.12L1369.59 500.93L1369.99 496.08L1370.38 491.48L1370.77 487.02L1371.17 482.60L1371.56 478.15L1371.95 473.57L1372.35 468.79L1372.74 463.98L1373.14 459.23L1373.53 454.55L1373.92 449.95L1374.32 445.44L1374.71 441.04L1375.10 436.76L1375.50 432.62L1375.89 428.63L1376.28 424.80L1376.68 421.15L1377.07 417.70L1377.46 414.46L1377.86 411.44L1378.25 408.68L1378.65 406.17L1379.04 403.94L1379.43 402.01L1379.83 400.40L1380.22 399.11L1380.61 398.17L1381.01 397.60L1381.40 397.40L1381.80 397.56L1382.19 398.02L1382.59 398.80L1382.98 399.88L1383.38 401.25L1383.78 402.92L1384.17 404.88L1384.57 407.12L1384.96 409.63L1385.36 412.39L1385.76 415.41L1386.15 418.67L1386.55 422.15L1386.95 425.85L1387.34 429.75L1387.74 433.83L1388.13 438.08L1388.53 442.50L1388.93 447.05L1389.32 451.72L1389.72 456.51L1390.11 461.39L1390.51 466.34L1390.91 471.34L1391.30 476.34L1391.70 481.32L1392.09 486.26L1392.49 491.19L1392.89 496.08L1393.28 500.95L1393.68 505.79L1394.07 510.60L1394.47 515.37L1394.87 520.11L1395.26 524.80L1395.66 529.43L1396.05 533.96L1396.45 538.32L1396.85 542.52L1397.24 546.50L1397.64 550.27L1398.04 553.78L1398.43 557.01L1398.83 559.94L1399.22 562.55L1399.62 564.81L1400.02 566.71L1400.41 568.21L1400.81 569.31L1401.20 569.97L1401.60 570.20L1401.99 569.98L1402.39 569.33L1402.78 568.26L1403.17 566.77L1403.57 564.87L1403.96 562.57L1404.35 559.88L1404.75 556.82L1405.14 553.40L1405.53 549.63L1405.93 545.52L1406.32 541.09L1406.71 536.35L1407.11 531.32L1407.50 526.03L1407.89 520.51L1408.29 514.78L1408.68 508.86L1409.07 502.74L1409.47 496.42L1409.86 489.92L1410.25 483.23L1410.65 476.35L1411.04 469.27L1411.43 462.05L1411.83 454.72L1412.22 447.30L1412.61 439.82L1413.01 432.28L1413.40 424.72L1413.79 417.15L1414.19 409.59L1414.58 402.05L1414.97 394.57L1415.37 387.17L1415.76 379.85L1416.15 372.64L1416.55 365.57L1416.94 358.64L1417.33 351.89L1417.73 345.32L1418.12 338.96L1418.51 332.83L1418.91 326.94L1419.30 321.31L1419.69 315.95L1420.09 310.88L1420.48 306.12L1420.87 301.69L1421.27 297.58L1421.66 293.83L1422.05 290.43L1422.45 287.40L1422.84 284.76L1423.23 282.50L1423.63 280.64L1424.02 279.18L1424.41 278.14L1424.81 277.51L1425.20 277.30L1425.60 277.42L1426.00 277.81L1426.39 278.52L1426.79 279.59L1427.19 281.06L1427.59 282.99L1427.99 285.41L1428.38 288.36L1428.78 291.88L1429.18 296.01L1429.58 300.79L1429.98 306.24L1430.37 312.38L1430.77 319.25L1431.17 326.86L1431.57 335.23L1431.97 344.35L1432.36 354.24L1432.76 364.90L1433.16 376.30L1433.56 388.44L1433.95 401.31L1434.35 414.86L1434.75 429.08L1435.15 443.93L1435.55 459.36L1435.94 475.32L1436.34 491.83L1436.74 512.46L1437.14 534.65L1437.54 551.09L1437.93 560.80L1438.33 567.83L1438.73 574.32L1439.13 582.42L1439.53 594.80L1439.92 616.46L1440.32 638.67L1440.72 659.69L1441.12 677.34L1441.52 687.95L1441.91 695.24L1442.31 701.67L1442.71 709.55L1443.11 721.59L1443.51 740.01L1443.90 761.27L1444.30 781.44L1444.70 797.74L1445.10 812.39L1445.50 826.06L1445.89 838.81L1446.29 850.74L1446.69 861.91L1447.09 872.40L1447.48 882.26L1447.88 891.55L1448.28 900.31L1448.68 908.57L1449.08 916.31L1449.47 923.46L1449.87 930.00L1450.27 935.93L1450.67 941.26L1451.07 946.00L1451.46 950.13L1451.86 953.68L1452.26 956.65L1452.66 959.05L1453.06 960.89L1453.45 962.18L1453.85 962.95L1454.25 963.20L1454.64 962.92L1455.04 962.06L1455.43 960.60L1455.83 958.51L1456.22 955.78L1456.61 952.39L1457.01 948.33L1457.40 943.60L1457.79 938.20L1458.19 932.13L1458.58 925.41L1458.97 918.05L1459.37 910.08L1459.76 901.52L1460.16 892.42L1460.55 882.80L1460.94 872.71L1461.34 862.21L1461.73 851.28L1462.12 839.35L1462.52 826.79L1462.91 814.29L1463.31 802.59L1463.70 792.31L1464.09 783.30L1464.49 775.00L1464.88 766.86L1465.28 758.34L1465.67 748.93L1466.06 738.20L1466.46 726.35L1466.85 713.80L1467.24 700.90L1467.64 688.04L1468.03 675.67L1468.42 664.30L1468.82 654.48L1469.21 646.79L1469.61 641.78L1470.00 640.00"/>
<path stroke="#D95319" d="M229.00 598.00L229.40 607.69L229.80 618.06L230.20 627.46L230.60 637.64L231.00 647.35L231.40 657.74L231.80 669.24L232.20 680.44L232.60 690.02L233.00 698.55L233.40 707.23L233.80 716.18L234.20 725.11L234.60 733.88L235.00 742.37L235.40 750.48L235.80 758.10L236.20 765.14L236.60 771.54L237.00 777.36L237.40 782.59L237.80 787.21L238.20 791.22L238.60 794.59L239.00 797.33L239.40 799.44L239.80 800.93L240.20 801.81L240.60 802.10L240.99 801.95L241.39 801.49L241.78 800.69L242.17 799.55L242.57 798.05L242.96 796.16L243.35 793.87L243.75 791.18L244.14 788.06L244.53 784.51L244.93 780.50L245.32 776.05L245.71 771.13L246.11 765.75L246.50 759.93L246.90 753.67L247.29 746.96L247.68 739.77L248.08 732.11L248.47 723.97L248.86 715.32L249.26 706.16L249.65 696.48L250.04 686.28L250.44 675.53L250.83 664.26L251.22 652.44L251.62 640.09L252.01 627.22L252.40 613.34L252.80 597.67L253.19 580.96L253.58 564.05L253.98 547.75L254.37 532.86L254.76 520.08L255.16 508.94L255.55 498.82L255.94 489.53L256.34 480.88L256.73 472.69L257.12 464.80L257.52 457.07L257.91 449.37L258.30 441.60L258.70 433.94L259.09 426.61L259.49 419.64L259.88 413.05L260.27 406.87L260.67 401.12L261.06 395.82L261.45 391.00L261.85 386.67L262.24 382.85L262.63 379.58L263.03 376.86L263.42 374.71L263.81 373.16L264.21 372.22L264.60 371.90L265.00 371.99L265.39 372.28L265.79 372.79L266.19 373.56L266.58 374.60L266.98 375.94L267.38 377.60L267.77 379.61L268.17 381.97L268.57 384.72L268.97 387.86L269.36 391.41L269.76 395.38L270.16 399.77L270.55 404.59L270.95 409.84L271.35 415.51L271.74 421.61L272.14 428.12L272.54 435.03L272.93 442.33L273.33 450.37L273.73 459.34L274.12 469.10L274.52 479.47L274.92 490.27L275.31 501.26L275.71 512.21L276.11 522.87L276.50 533.48L276.90 544.12L277.30 554.72L277.70 565.23L278.09 575.59L278.49 585.75L278.89 595.66L279.28 605.27L279.68 614.47L280.08 623.29L280.47 631.76L280.87 639.96L281.27 647.92L281.66 655.71L282.06 663.35L282.46 670.90L282.85 678.37L283.25 685.78L283.65 693.07L284.04 700.10L284.44 706.82L284.84 713.22L285.23 719.26L285.63 724.93L286.03 730.18L286.43 734.99L286.82 739.34L287.22 743.19L287.62 746.51L288.01 749.29L288.41 751.49L288.81 753.09L289.20 754.07L289.60 754.40L290.00 754.26L290.39 753.83L290.79 753.08L291.18 751.99L291.58 750.52L291.97 748.67L292.37 746.40L292.77 743.71L293.16 740.57L293.56 736.97L293.95 732.90L294.35 728.35L294.75 723.31L295.14 717.79L295.54 711.77L295.93 705.24L296.33 697.78L296.72 689.33L297.12 679.99L297.52 669.89L297.91 659.22L298.31 648.20L298.70 637.08L299.10 626.12L299.49 615.61L299.89 605.84L300.29 596.95L300.68 588.63L301.08 580.77L301.47 573.27L301.87 566.02L302.26 558.90L302.66 551.80L303.06 544.58L303.45 537.14L303.85 529.34L304.24 521.06L304.64 512.55L305.04 504.01L305.43 495.45L305.83 486.89L306.22 478.33L306.62 469.80L307.01 461.30L307.41 452.86L307.81 444.49L308.20 436.20L308.60 428.02L308.99 419.95L309.39 412.03L309.78 404.26L310.18 396.67L310.58 389.28L310.97 382.10L311.37 375.15L311.76 368.47L312.16 362.06L312.55 355.95L312.95 350.16L313.35 344.72L313.74 339.63L314.14 334.94L314.53 330.65L314.93 326.79L315.33 323.38L315.72 320.44L316.12 317.99L316.51 316.05L316.91 314.65L317.30 313.79L317.70 313.50L318.10 313.64L318.49 314.05L318.89 314.74L319.28 315.72L319.68 316.99L320.08 318.56L320.47 320.42L320.87 322.57L321.27 325.01L321.66 327.74L322.06 330.75L322.45 334.04L322.85 337.58L323.25 341.38L323.64 345.41L324.04 349.66L324.43 354.12L324.83 358.77L325.23 363.58L325.62 368.54L326.02 373.62L326.42 378.80L326.81 384.06L327.21 389.36L327.60 394.68L328.00 400.00L328.40 405.53L328.79 411.29L329.19 416.91L329.58 422.07L329.98 426.51L330.38 430.09L330.77 433.12L331.17 435.96L331.57 438.92L331.96 442.22L332.36 445.73L332.75 449.15L333.15 452.25L333.55 454.93L333.94 457.36L334.34 459.50L334.73 461.31L335.13 462.78L335.53 463.93L335.92 464.86L336.32 465.60L336.72 466.16L337.11 466.56L337.51 466.82L337.90 466.96L338.30 467.00L338.69 467.00L339.08 466.99L339.47 466.95L339.86 466.85L340.25 466.65L340.64 466.33L341.03 465.87L341.43 465.24L341.82 464.44L342.21 463.35L342.60 461.41L342.99 458.81L343.38 456.21L343.77 453.71L344.16 451.22L344.55 448.85L344.94 446.73L345.33 444.89L345.72 443.20L346.11 441.51L346.50 439.70L346.89 437.63L347.28 435.31L347.68 433.00L348.07 430.99L348.46 429.42L348.85 428.15L349.24 427.14L349.63 426.39L350.02 425.88L350.41 425.59L350.80 425.50L351.20 425.54L351.60 425.70L352.00 426.03L352.40 426.59L352.80 427.43L353.20 428.60L353.60 430.11L354.00 432.00L354.40 434.66L354.80 438.30L355.20 442.34L355.60 446.18L356.00 450.12L356.40 453.99L356.80 457.54L357.20 460.55L357.60 463.41L358.00 466.70L358.40 470.48L358.80 475.05L359.20 482.04L359.60 494.01L360.00 508.67L360.40 522.00L360.80 532.85L361.20 543.28L361.60 553.30L362.00 562.98L362.40 572.38L362.80 581.62L363.20 590.78L363.60 600.01L364.00 609.42L364.40 619.16L364.80 629.23L365.20 638.91L365.60 648.21L366.00 657.30L366.40 666.36L366.80 675.56L367.20 685.09L367.60 695.12L368.00 705.82L368.40 717.38L368.80 729.97L369.20 745.70L369.60 762.53L370.00 776.86L370.40 790.34L370.80 803.43L371.20 816.11L371.60 828.32L372.00 840.04L372.40 851.23L372.80 861.86L373.20 871.92L373.60 881.38L374.00 890.23L374.40 898.46L374.80 906.06L375.20 913.04L375.60 919.39L376.00 925.13L376.40 930.27L376.80 934.82L377.20 938.80L377.60 942.24L378.00 945.15L378.40 947.57L378.80 949.53L379.20 951.05L379.60 952.18L380.00 952.94L380.40 953.37L380.80 953.50L381.20 952.73L381.59 950.50L381.99 946.95L382.38 942.21L382.78 936.39L383.18 929.63L383.57 922.05L383.97 913.75L384.36 904.84L384.76 895.43L385.16 885.61L385.55 875.47L385.95 865.10L386.35 854.57L386.74 843.95L387.14 833.31L387.53 822.71L387.93 812.21L388.33 801.85L388.72 791.68L389.12 781.74L389.51 772.06L389.91 763.24L390.31 756.03L390.70 749.44L391.10 742.40L391.49 733.78L391.89 722.21L392.29 706.14L392.68 686.36L393.08 664.04L393.48 640.50L393.87 616.84L394.27 590.21L394.66 562.05L395.06 535.69L395.46 514.00L395.85 494.58L396.25 476.40L396.64 459.34L397.04 443.27L397.44 428.08L397.83 413.64L398.23 399.81L398.62 386.48L399.02 373.52L399.42 360.81L399.81 348.24L400.21 335.70L400.61 323.10L401.00 310.34L401.40 297.35L401.79 284.06L402.19 270.47L402.59 256.82L402.98 243.28L403.38 229.94L403.77 216.91L404.17 204.29L404.57 192.16L404.96 180.60L405.36 169.70L405.75 159.50L406.15 150.06L406.55 141.41L406.94 133.57L407.34 126.57L407.74 120.40L408.13 115.04L408.53 110.47L408.92 106.59L409.32 103.38L409.72 100.81L410.11 98.85L410.51 97.48L410.90 96.67L411.30 96.40L411.70 96.72L412.09 97.68L412.49 99.27L412.88 101.48L413.28 104.29L413.68 107.67L414.07 111.61L414.47 116.08L414.86 121.09L415.26 126.62L415.66 132.66L416.05 139.18L416.45 146.17L416.84 153.61L417.24 161.47L417.64 169.73L418.03 178.36L418.43 187.35L418.82 196.66L419.22 206.26L419.61 216.13L420.01 226.25L420.41 236.58L420.80 247.10L421.20 257.78L421.59 268.59L421.99 279.51L422.39 290.57L422.78 301.79L423.18 313.12L423.57 324.54L423.97 336.02L424.37 347.52L424.76 359.01L425.16 370.47L425.55 381.85L425.95 393.13L426.35 404.28L426.74 415.27L427.14 426.08L427.53 436.67L427.93 447.03L428.33 457.12L428.72 466.94L429.12 476.46L429.51 485.67L429.91 494.54L430.31 503.08L430.70 511.26L431.10 519.08L431.49 526.49L431.89 533.33L432.29 539.70L432.68 545.68L433.08 551.38L433.47 556.86L433.87 562.21L434.26 567.47L434.66 572.71L435.06 577.94L435.45 583.20L435.85 588.36L436.24 593.32L436.64 598.05L437.04 602.51L437.43 606.66L437.83 610.47L438.22 613.89L438.62 616.89L439.02 619.42L439.41 621.46L439.81 622.96L440.20 623.88L440.60 624.20L440.99 624.10L441.38 623.79L441.77 623.28L442.16 622.57L442.55 621.68L442.94 620.60L443.33 619.35L443.73 617.95L444.12 616.39L444.51 614.71L444.90 612.91L445.29 611.02L445.68 609.05L446.07 607.02L446.46 604.94L446.85 602.85L447.24 600.76L447.63 598.68L448.02 596.65L448.41 594.68L448.80 592.79L449.19 590.99L449.58 589.31L449.98 587.75L450.37 586.35L450.76 585.10L451.15 584.02L451.54 583.13L451.93 582.42L452.32 581.91L452.71 581.60L453.10 581.50L453.49 581.66L453.89 582.13L454.28 582.90L454.68 583.96L455.07 585.30L455.47 586.92L455.86 588.79L456.26 590.90L456.65 593.25L457.05 595.81L457.44 598.57L457.84 601.53L458.23 604.65L458.62 607.93L459.02 611.35L459.41 614.89L459.81 618.55L460.20 622.30L460.60 626.12L460.99 629.95L461.39 633.76L461.78 637.55L462.18 641.34L462.57 645.13L462.97 648.92L463.36 652.73L463.76 656.55L464.15 660.42L464.54 664.32L464.94 668.27L465.33 672.29L465.73 676.36L466.12 680.51L466.52 684.73L466.91 689.03L467.31 693.48L467.70 698.00L468.10 702.53L468.49 706.98L468.89 711.30L469.28 715.41L469.68 719.26L470.07 722.80L470.46 726.01L470.86 728.86L471.25 731.34L471.65 733.44L472.04 735.20L472.44 736.68L472.83 737.92L473.23 738.92L473.62 739.71L474.02 740.30L474.41 740.70L474.81 740.93L475.20 741.00L475.60 740.46L476.00 738.89L476.40 736.36L476.79 732.98L477.19 728.87L477.59 724.19L477.99 719.12L478.39 713.81L478.79 708.29L479.19 702.54L479.58 696.61L479.98 690.52L480.38 684.31L480.78 677.98L481.18 671.55L481.58 665.01L481.98 658.37L482.37 651.60L482.77 644.71L483.17 637.66L483.57 630.44L483.97 623.03L484.37 615.39L484.76 607.55L485.16 599.85L485.56 592.31L485.96 584.84L486.36 577.38L486.76 569.83L487.16 562.10L487.55 554.10L487.95 545.72L488.35 536.89L488.75 527.50L489.15 517.19L489.55 505.97L489.95 494.31L490.34 482.68L490.74 471.54L491.14 460.98L491.54 450.59L491.94 440.39L492.34 430.40L492.74 420.65L493.13 411.17L493.53 401.96L493.93 393.06L494.33 384.48L494.73 376.24L495.13 368.35L495.52 360.84L495.92 353.72L496.32 346.99L496.72 340.67L497.12 334.77L497.52 329.31L497.92 324.27L498.31 319.68L498.71 315.52L499.11 311.82L499.51 308.56L499.91 305.75L500.31 303.39L500.71 301.47L501.10 299.98L501.50 298.93L501.90 298.31L502.30 298.10L502.70 298.45L503.10 299.49L503.50 301.18L503.90 303.50L504.30 306.43L504.69 309.92L505.09 313.95L505.49 318.50L505.89 323.52L506.29 329.00L506.69 334.89L507.09 341.18L507.49 347.83L507.89 354.81L508.29 362.09L508.69 369.65L509.09 377.47L509.49 385.50L509.88 393.74L510.28 402.15L510.68 410.71L511.08 419.40L511.48 428.19L511.88 437.07L512.28 446.01L512.68 455.00L513.08 463.94L513.48 472.46L513.88 480.87L514.27 489.56L514.67 498.49L515.07 507.41L515.47 516.13L515.87 524.67L516.27 533.09L516.67 541.39L517.07 549.52L517.47 557.61L517.87 565.68L518.27 573.63L518.67 581.88L519.07 590.77L519.46 600.13L519.86 609.63L520.26 618.98L520.66 627.93L521.06 636.26L521.46 643.78L521.86 650.40L522.26 656.12L522.66 661.22L523.06 665.72L523.46 669.64L523.86 672.97L524.25 675.74L524.65 677.95L525.05 679.63L525.45 680.80L525.85 681.48L526.25 681.70L526.65 681.43L527.05 680.62L527.44 679.27L527.84 677.37L528.24 674.94L528.64 671.97L529.03 668.47L529.43 664.44L529.83 659.90L530.23 654.86L530.62 649.34L531.02 643.47L531.42 637.24L531.82 630.62L532.21 623.53L532.61 615.93L533.01 607.71L533.41 598.78L533.81 589.05L534.20 577.85L534.60 565.55L535.00 554.65L535.40 544.51L535.79 534.72L536.19 525.34L536.59 516.19L536.99 506.88L537.38 497.35L537.78 488.08L538.18 479.62L538.58 472.09L538.98 464.60L539.37 456.29L539.77 447.71L540.17 439.08L540.57 430.40L540.96 421.69L541.36 412.96L541.76 404.23L542.16 395.52L542.55 386.83L542.95 378.20L543.35 369.65L543.75 361.18L544.14 352.82L544.54 344.61L544.94 336.55L545.34 328.69L545.74 321.04L546.13 313.64L546.53 306.51L546.93 299.68L547.33 293.20L547.72 287.09L548.12 281.38L548.52 276.12L548.92 271.33L549.31 267.06L549.71 263.35L550.11 260.23L550.51 257.73L550.90 255.91L551.30 254.78L551.70 254.40L552.10 254.61L552.49 255.26L552.89 256.36L553.28 257.93L553.68 259.99L554.07 262.56L554.47 265.65L554.87 269.27L555.26 273.43L555.66 278.15L556.05 283.42L556.45 289.25L556.85 295.64L557.24 302.60L557.64 310.12L558.03 318.20L558.43 326.82L558.82 335.99L559.22 345.68L559.62 355.88L560.01 366.58L560.41 377.76L560.80 389.39L561.20 401.45L561.59 413.92L561.99 426.76L562.39 439.94L562.78 453.44L563.18 467.21L563.57 481.79L563.97 497.53L564.36 513.87L564.76 530.24L565.16 546.04L565.55 560.68L565.95 573.64L566.34 585.16L566.74 595.68L567.14 605.52L567.53 615.02L567.93 624.50L568.32 634.27L568.72 644.62L569.11 655.85L569.51 668.20L569.91 681.17L570.30 694.09L570.70 706.37L571.09 717.51L571.49 727.94L571.88 737.94L572.28 747.48L572.68 756.54L573.07 765.12L573.47 773.19L573.86 780.76L574.26 787.80L574.65 794.32L575.05 800.31L575.45 805.77L575.84 810.71L576.24 815.12L576.63 819.02L577.03 822.40L577.43 825.29L577.82 827.69L578.22 829.61L578.61 831.08L579.01 832.10L579.40 832.70L579.80 832.90L580.20 832.65L580.60 831.90L580.99 830.68L581.39 829.00L581.79 826.87L582.19 824.32L582.59 821.35L582.98 817.99L583.38 814.24L583.78 810.14L584.18 805.69L584.58 800.91L584.97 795.82L585.37 790.43L585.77 784.76L586.17 778.82L586.57 772.64L586.97 766.22L587.36 759.58L587.76 752.74L588.16 745.70L588.56 738.49L588.96 731.12L589.35 723.60L589.75 715.93L590.15 708.08L590.55 699.96L590.95 691.64L591.34 683.16L591.74 674.60L592.14 666.02L592.54 657.51L592.94 649.12L593.33 640.95L593.73 633.07L594.13 625.55L594.53 618.48L594.93 611.94L595.32 605.89L595.72 600.13L596.12 594.65L596.52 589.42L596.92 584.42L597.32 579.61L597.71 574.98L598.11 570.49L598.51 566.12L598.91 561.85L599.31 557.63L599.70 553.35L600.10 549.01L600.50 544.70L600.90 540.49L601.30 536.45L601.69 532.64L602.09 529.15L602.49 526.05L602.89 523.42L603.29 521.31L603.68 519.55L604.08 517.88L604.48 516.31L604.88 514.84L605.28 513.50L605.67 512.29L606.07 511.22L606.47 510.31L606.87 509.56L607.27 508.99L607.67 508.61L608.06 508.30L608.46 508.03L608.86 507.81L609.26 507.63L609.66 507.47L610.05 507.33L610.45 507.20L610.85 507.07L611.25 506.94L611.65 506.80L612.04 506.65L612.44 506.46L612.84 506.25L613.24 506.00L613.64 505.70L614.03 505.33L614.43 504.87L614.83 504.31L615.23 503.65L615.63 502.88L616.02 501.99L616.42 501.00L616.82 499.88L617.22 498.65L617.62 497.29L618.02 495.77L618.41 493.48L618.81 490.36L619.21 486.54L619.61 482.18L620.01 477.45L620.40 472.50L620.80 467.48L621.20 462.48L621.60 457.26L622.00 451.77L622.39 446.03L622.79 440.05L623.19 433.85L623.59 427.45L623.99 420.85L624.38 414.08L624.78 407.16L625.18 400.10L625.58 392.92L625.98 385.64L626.38 378.27L626.77 370.84L627.17 363.37L627.57 355.86L627.97 348.35L628.37 340.85L628.76 333.37L629.16 325.94L629.56 318.57L629.96 311.28L630.36 304.09L630.75 296.97L631.15 289.86L631.55 282.77L631.95 275.73L632.35 268.75L632.74 261.84L633.14 255.02L633.54 248.31L633.94 241.73L634.34 235.28L634.73 229.00L635.13 222.89L635.53 216.98L635.93 211.29L636.33 205.82L636.73 200.62L637.12 195.68L637.52 191.03L637.92 186.70L638.32 182.69L638.72 179.03L639.11 175.73L639.51 172.82L639.91 170.32L640.31 168.23L640.71 166.58L641.10 165.38L641.50 164.65L641.90 164.40L642.30 164.71L642.70 165.65L643.09 167.23L643.49 169.45L643.89 172.32L644.29 175.86L644.69 180.06L645.08 184.94L645.48 190.49L645.88 196.71L646.28 203.61L646.68 211.19L647.07 219.44L647.47 228.42L647.87 238.19L648.27 248.73L648.67 260.03L649.06 272.04L649.46 284.73L649.86 298.04L650.26 311.90L650.66 326.26L651.05 341.04L651.45 356.16L651.85 371.53L652.25 387.08L652.65 402.70L653.04 418.31L653.44 433.69L653.84 448.01L654.24 463.08L654.64 481.37L655.03 503.54L655.43 527.94L655.83 552.72L656.23 575.97L656.63 595.97L657.02 613.94L657.42 630.74L657.82 646.60L658.22 661.74L658.62 676.41L659.01 690.82L659.41 705.17L659.81 719.58L660.21 733.54L660.61 747.01L661.00 760.02L661.40 772.63L661.80 784.86L662.20 796.74L662.60 808.31L662.99 819.59L663.39 830.62L663.79 841.41L664.19 851.97L664.59 862.32L664.98 872.48L665.38 882.42L665.78 892.16L666.18 901.68L666.58 910.95L666.97 919.95L667.37 928.61L667.77 936.85L668.17 944.60L668.57 951.79L668.96 958.34L669.36 964.20L669.76 969.30L670.16 973.58L670.56 976.99L670.95 979.47L671.35 980.99L671.75 981.50L672.15 981.15L672.54 980.09L672.94 978.35L673.33 975.93L673.73 972.84L674.12 969.12L674.52 964.77L674.91 959.82L675.31 954.28L675.70 948.18L676.10 941.54L676.49 934.39L676.89 926.76L677.28 918.66L677.68 910.14L678.07 901.25L678.47 891.99L678.86 882.38L679.26 872.46L679.65 862.22L680.05 851.68L680.44 840.86L680.84 829.76L681.23 818.40L681.63 806.78L682.03 794.91L682.42 782.80L682.82 770.46L683.21 757.89L683.61 745.10L684.00 732.09L684.40 718.88L684.79 705.51L685.19 692.25L685.58 679.07L685.98 665.93L686.37 652.75L686.77 639.46L687.16 625.99L687.56 612.30L687.95 598.30L688.35 583.96L688.74 569.23L689.14 553.65L689.53 537.16L689.93 520.40L690.32 503.95L690.72 488.36L691.12 474.10L691.51 461.37L691.91 449.31L692.30 437.78L692.70 426.83L693.09 416.46L693.49 406.68L693.88 397.53L694.28 388.99L694.67 381.08L695.07 373.79L695.46 367.13L695.86 361.08L696.25 355.65L696.65 350.81L697.04 346.54L697.44 342.84L697.83 339.68L698.23 337.03L698.62 334.87L699.02 333.18L699.41 331.91L699.81 331.05L700.20 330.56L700.60 330.40L701.00 330.63L701.39 331.30L701.79 332.41L702.18 333.95L702.58 335.89L702.98 338.22L703.37 340.93L703.77 343.98L704.16 347.37L704.56 351.06L704.96 355.04L705.35 359.29L705.75 363.77L706.15 368.47L706.54 373.36L706.94 378.41L707.33 383.61L707.73 388.92L708.13 394.32L708.52 399.78L708.92 405.30L709.31 410.83L709.71 416.36L710.11 421.86L710.50 427.32L710.90 432.72L711.29 438.03L711.69 443.24L712.09 448.32L712.48 453.27L712.88 458.06L713.27 462.69L713.67 467.13L714.07 471.38L714.46 475.40L714.86 479.20L715.25 482.76L715.65 486.09L716.05 489.17L716.44 492.00L716.84 494.59L717.24 496.92L717.63 499.00L718.03 500.83L718.42 502.41L718.82 503.73L719.22 504.81L719.61 505.64L720.01 506.23L720.40 506.58L720.80 506.70L721.20 506.50L721.59 505.91L721.99 504.94L722.38 503.59L722.78 501.89L723.17 499.86L723.57 497.52L723.97 494.88L724.36 491.98L724.76 488.85L725.15 485.50L725.55 481.98L725.94 478.31L726.34 474.51L726.74 470.63L727.13 466.68L727.53 462.65L727.92 458.56L728.32 454.43L728.71 450.27L729.11 446.11L729.51 441.97L729.90 437.87L730.30 433.83L730.69 429.86L731.09 425.98L731.49 422.21L731.88 418.56L732.28 415.04L732.67 411.68L733.07 408.47L733.46 405.44L733.86 402.59L734.26 399.92L734.65 397.44L735.05 395.17L735.44 393.09L735.84 391.23L736.23 389.56L736.63 388.11L737.03 386.86L737.42 385.81L737.82 384.96L738.21 384.31L738.61 383.86L739.00 383.59L739.40 383.50L739.79 383.68L740.19 384.21L740.58 385.09L740.98 386.33L741.37 387.92L741.76 389.86L742.16 392.15L742.55 394.79L742.94 397.77L743.34 401.08L743.73 404.73L744.13 408.70L744.52 412.98L744.91 417.57L745.31 422.45L745.70 427.62L746.10 433.06L746.49 438.77L746.88 444.73L747.28 450.92L747.67 457.33L748.06 463.95L748.46 470.76L748.85 477.73L749.25 484.85L749.64 492.11L750.03 499.50L750.43 507.01L750.82 514.64L751.22 522.39L751.61 530.23L752.00 538.17L752.40 546.19L752.79 554.32L753.18 562.60L753.58 570.97L753.97 579.34L754.37 587.65L754.76 595.81L755.15 603.75L755.55 611.41L755.94 618.74L756.34 625.67L756.73 632.17L757.12 638.32L757.52 644.19L757.91 649.79L758.30 655.09L758.70 660.08L759.09 664.76L759.49 669.13L759.88 673.18L760.27 676.90L760.67 680.30L761.06 683.38L761.46 686.14L761.85 688.57L762.24 690.69L762.64 692.50L763.03 694.01L763.42 695.22L763.82 696.15L764.21 696.80L764.61 697.18L765.00 697.30L765.40 696.94L765.80 695.88L766.19 694.16L766.59 691.80L766.99 688.85L767.39 685.35L767.79 681.34L768.19 676.86L768.58 671.97L768.98 666.69L769.38 661.09L769.78 655.20L770.18 649.07L770.58 642.75L770.97 636.27L771.37 629.68L771.77 623.06L772.17 616.43L772.57 609.81L772.96 603.19L773.36 596.60L773.76 590.01L774.16 583.44L774.56 576.86L774.96 570.29L775.35 563.69L775.75 557.08L776.15 550.43L776.55 543.73L776.95 536.99L777.34 530.18L777.74 523.35L778.14 516.69L778.54 510.17L778.94 503.77L779.34 497.44L779.73 491.16L780.13 484.89L780.53 478.61L780.93 472.31L781.33 465.99L781.72 459.77L782.12 453.72L782.52 447.86L782.92 442.24L783.32 436.90L783.72 431.87L784.11 427.19L784.51 422.91L784.91 419.07L785.31 415.70L785.71 412.85L786.11 410.57L786.50 408.89L786.90 407.85L787.30 407.50L787.70 407.66L788.10 408.16L788.50 409.02L788.89 410.26L789.29 411.89L789.69 413.92L790.09 416.38L790.49 419.27L790.89 422.60L791.28 426.39L791.68 430.63L792.08 435.33L792.48 440.49L792.88 446.11L793.28 452.19L793.67 458.72L794.07 465.68L794.47 473.15L794.87 481.31L795.27 490.13L795.67 499.54L796.06 509.45L796.46 519.77L796.86 530.37L797.26 541.13L797.66 551.92L798.06 562.59L798.45 573.03L798.85 583.29L799.25 593.40L799.65 603.40L800.05 613.29L800.45 623.11L800.85 632.87L801.24 642.60L801.64 652.31L802.04 662.04L802.44 671.80L802.84 681.53L803.24 691.14L803.63 700.61L804.03 709.95L804.43 719.14L804.83 728.19L805.23 737.09L805.63 745.76L806.02 754.09L806.42 762.00L806.82 769.42L807.22 776.28L807.62 782.54L808.02 788.20L808.41 793.32L808.81 797.91L809.21 801.95L809.61 805.45L810.01 808.39L810.41 810.79L810.80 812.65L811.20 813.96L811.60 814.74L812.00 815.00L812.40 814.76L812.80 814.00L813.20 812.67L813.59 810.72L813.99 808.11L814.39 804.80L814.79 800.74L815.19 795.86L815.59 789.86L815.99 782.67L816.39 774.39L816.78 765.18L817.18 755.27L817.58 745.00L817.98 734.73L818.38 724.77L818.78 715.02L819.18 705.56L819.57 696.46L819.97 687.62L820.37 678.98L820.77 670.45L821.17 661.91L821.57 653.25L821.97 644.34L822.36 635.03L822.76 625.18L823.16 614.64L823.56 603.36L823.96 591.70L824.36 579.65L824.76 567.18L825.16 554.27L825.55 540.88L825.95 526.99L826.35 512.59L826.75 497.64L827.15 482.13L827.55 466.05L827.95 448.41L828.34 429.14L828.74 408.97L829.14 388.67L829.54 368.95L829.94 350.48L830.34 333.86L830.74 319.53L831.14 306.67L831.53 294.86L831.93 283.92L832.33 273.72L832.73 264.14L833.13 255.04L833.53 246.31L833.93 237.88L834.32 229.64L834.72 221.55L835.12 213.66L835.52 206.18L835.92 199.13L836.32 192.51L836.72 186.35L837.11 180.63L837.51 175.39L837.91 170.62L838.31 166.33L838.71 162.53L839.11 159.22L839.51 156.41L839.91 154.11L840.30 152.31L840.70 151.03L841.10 150.26L841.50 150.00L841.90 150.24L842.29 150.96L842.69 152.16L843.09 153.85L843.49 156.03L843.88 158.70L844.28 161.85L844.68 165.49L845.08 169.61L845.48 174.21L845.87 179.28L846.27 184.82L846.67 190.81L847.06 197.25L847.46 204.13L847.86 211.43L848.26 219.15L848.65 227.35L849.05 236.12L849.45 245.39L849.85 255.10L850.25 265.17L850.64 275.51L851.04 286.01L851.44 296.56L851.84 307.07L852.23 317.40L852.63 327.44L853.03 337.03L853.42 346.18L853.82 354.97L854.22 363.48L854.62 371.79L855.01 380.02L855.41 388.23L855.81 396.54L856.21 405.04L856.61 413.82L857.00 422.98L857.40 432.62L857.80 442.82L858.19 453.66L858.59 465.21L858.99 478.12L859.39 493.92L859.78 510.99L860.18 527.51L860.58 541.83L860.98 552.89L861.38 562.36L861.77 570.85L862.17 578.52L862.57 585.52L862.96 592.01L863.36 598.10L863.76 603.91L864.16 609.54L864.55 615.08L864.95 620.59L865.35 626.06L865.75 631.36L866.14 636.42L866.54 641.17L866.94 645.57L867.34 649.58L867.74 653.19L868.13 656.38L868.53 659.15L868.93 661.51L869.32 663.49L869.72 665.18L870.12 666.64L870.52 667.86L870.91 668.86L871.31 669.67L871.71 670.29L872.11 670.73L872.50 671.03L872.90 671.20L873.30 671.25L873.68 671.21L874.07 671.08L874.45 670.87L874.84 670.59L875.22 670.24L875.61 669.83L875.99 669.38L876.37 668.89L876.76 668.38L877.14 667.87L877.53 667.36L877.91 666.87L878.29 666.42L878.68 666.01L879.06 665.66L879.45 665.38L879.83 665.17L880.22 665.04L880.60 665.00L881.00 665.11L881.39 665.45L881.79 666.00L882.18 666.75L882.58 667.70L882.98 668.83L883.37 670.14L883.77 671.60L884.16 673.23L884.56 674.99L884.96 676.89L885.35 678.91L885.75 681.04L886.14 683.27L886.54 685.60L886.94 688.02L887.33 690.51L887.73 693.07L888.12 695.64L888.52 698.01L888.92 700.25L889.31 702.48L889.71 704.83L890.10 707.43L890.50 710.42L890.90 713.96L891.29 718.73L891.69 725.22L892.08 731.48L892.48 736.82L892.88 742.06L893.27 747.15L893.67 752.06L894.06 756.75L894.46 761.19L894.86 765.35L895.25 769.22L895.65 772.77L896.04 775.99L896.44 778.88L896.84 781.44L897.23 783.66L897.63 785.55L898.02 787.13L898.42 788.41L898.82 789.41L899.21 790.14L899.61 790.64L900.00 790.91L900.40 791.00L900.80 790.51L901.20 789.13L901.60 786.96L902.00 784.12L902.39 780.71L902.79 776.83L903.19 772.57L903.59 768.04L903.99 763.31L904.39 758.47L904.79 753.59L905.18 748.74L905.58 743.99L905.98 739.40L906.38 735.02L906.78 730.91L907.18 727.53L907.58 724.74L907.98 722.03L908.38 718.88L908.77 714.71L909.17 708.85L909.57 701.17L909.97 691.76L910.37 680.77L910.77 668.35L911.17 654.76L911.56 640.26L911.96 625.21L912.36 610.00L912.76 595.06L913.16 580.34L913.56 564.57L913.96 548.02L914.36 531.13L914.75 514.34L915.15 498.16L915.55 483.06L915.95 469.52L916.35 457.65L916.75 446.90L917.15 437.03L917.55 427.81L917.94 419.01L918.34 410.38L918.74 401.70L919.14 392.73L919.54 383.24L919.94 373.01L920.34 361.88L920.74 350.40L921.13 338.77L921.53 327.03L921.93 315.17L922.33 303.24L922.73 291.26L923.13 279.24L923.53 267.23L923.93 255.24L924.32 243.32L924.72 231.50L925.12 219.82L925.52 208.32L925.92 197.04L926.32 186.02L926.72 175.31L927.12 164.97L927.51 155.03L927.91 145.56L928.31 136.61L928.71 128.23L929.11 120.48L929.51 113.42L929.91 107.11L930.31 101.60L930.70 96.97L931.10 93.26L931.50 90.54L931.90 88.87L932.30 88.30L932.70 88.52L933.10 89.18L933.50 90.32L933.89 91.95L934.29 94.11L934.69 96.80L935.09 100.05L935.49 103.87L935.89 108.29L936.29 113.31L936.68 118.94L937.08 125.20L937.48 132.09L937.88 139.61L938.28 147.77L938.68 156.56L939.08 165.98L939.47 176.03L939.87 186.68L940.27 197.94L940.67 209.79L941.07 222.22L941.47 235.78L941.87 250.67L942.27 266.75L942.66 283.82L943.06 301.66L943.46 320.02L943.86 338.62L944.26 357.17L944.66 375.37L945.06 392.93L945.45 409.54L945.85 424.92L946.25 438.80L946.65 450.20L947.05 460.54L947.45 473.02L947.85 488.32L948.24 504.49L948.64 520.54L949.04 537.02L949.44 553.45L949.84 569.35L950.24 584.28L950.64 597.96L951.03 610.72L951.43 622.77L951.83 634.23L952.23 645.24L952.63 655.89L953.03 665.74L953.43 675.01L953.83 684.09L954.22 693.34L954.62 703.05L955.02 713.42L955.42 723.92L955.82 733.98L956.22 743.11L956.62 751.00L957.01 757.69L957.41 763.62L957.81 768.83L958.21 773.32L958.61 777.11L959.01 780.23L959.41 782.70L959.80 784.56L960.20 785.83L960.60 786.57L961.00 786.80L961.39 786.55L961.79 785.81L962.18 784.59L962.57 782.90L962.97 780.75L963.36 778.15L963.75 775.13L964.15 771.70L964.54 767.86L964.93 763.65L965.33 759.12L965.72 754.37L966.11 749.38L966.51 744.11L966.90 738.51L967.29 732.54L967.69 726.11L968.08 719.16L968.47 711.57L968.87 703.26L969.26 694.28L969.65 684.72L970.05 674.71L970.44 664.37L970.83 653.85L971.23 643.31L971.62 632.89L972.01 622.75L972.41 613.03L972.80 603.72L973.19 594.58L973.59 585.65L973.98 576.97L974.37 568.61L974.77 560.61L975.16 553.00L975.55 545.81L975.95 539.08L976.34 532.81L976.73 527.03L977.13 521.62L977.52 516.51L977.91 511.72L978.31 507.26L978.70 503.11L979.09 499.29L979.49 495.79L979.88 492.62L980.27 489.76L980.67 487.22L981.06 484.98L981.45 483.03L981.85 481.37L982.24 479.98L982.63 478.85L983.03 477.96L983.42 477.29L983.81 476.84L984.21 476.58L984.60 476.50L985.00 476.74L985.39 477.46L985.79 478.64L986.18 480.24L986.58 482.26L986.98 484.67L987.37 487.43L987.77 490.53L988.16 493.93L988.56 497.60L988.96 501.51L989.35 505.64L989.75 509.96L990.15 514.43L990.54 519.03L990.94 523.73L991.33 528.51L991.73 533.28L992.13 538.01L992.52 542.70L992.92 547.35L993.31 551.96L993.71 556.54L994.11 561.10L994.50 565.64L994.90 570.17L995.29 574.71L995.69 579.27L996.09 583.84L996.48 588.44L996.88 593.07L997.27 597.73L997.67 602.42L998.07 607.03L998.46 611.55L998.86 615.94L999.25 620.19L999.65 624.28L1000.05 628.19L1000.44 631.89L1000.84 635.36L1001.24 638.59L1001.63 641.55L1002.03 644.23L1002.42 646.60L1002.82 648.65L1003.22 650.36L1003.61 651.72L1004.01 652.70L1004.40 653.30L1004.80 653.50L1005.20 653.17L1005.59 652.18L1005.99 650.59L1006.39 648.42L1006.78 645.73L1007.18 642.56L1007.58 638.96L1007.97 634.98L1008.37 630.68L1008.77 626.11L1009.17 621.33L1009.56 616.38L1009.96 611.33L1010.36 606.20L1010.75 601.02L1011.15 595.79L1011.55 590.53L1011.94 585.26L1012.34 579.98L1012.74 574.69L1013.13 569.40L1013.53 564.11L1013.93 558.82L1014.32 553.51L1014.72 548.20L1015.12 542.87L1015.51 537.51L1015.91 532.13L1016.31 526.71L1016.70 521.38L1017.10 516.21L1017.50 511.16L1017.90 506.22L1018.29 501.34L1018.69 496.51L1019.09 491.70L1019.48 486.88L1019.88 482.03L1020.28 477.13L1020.67 472.16L1021.07 467.11L1021.47 462.06L1021.86 457.08L1022.26 452.17L1022.66 447.37L1023.05 442.67L1023.45 438.09L1023.85 433.66L1024.24 429.38L1024.64 425.28L1025.04 421.37L1025.43 417.67L1025.83 414.20L1026.23 410.98L1026.63 408.02L1027.02 405.34L1027.42 402.96L1027.82 400.90L1028.21 399.18L1028.61 397.81L1029.01 396.82L1029.40 396.21L1029.80 396.00L1030.20 396.24L1030.59 396.96L1030.99 398.12L1031.38 399.72L1031.78 401.72L1032.18 404.11L1032.57 406.86L1032.97 409.93L1033.36 413.31L1033.76 416.97L1034.16 420.89L1034.55 425.02L1034.95 429.36L1035.34 433.86L1035.74 438.51L1036.13 443.29L1036.53 448.16L1036.93 453.11L1037.32 458.11L1037.72 463.14L1038.11 468.18L1038.51 473.11L1038.91 477.85L1039.30 482.43L1039.70 486.87L1040.09 491.23L1040.49 495.52L1040.89 499.81L1041.28 504.11L1041.68 508.46L1042.07 512.91L1042.47 517.47L1042.87 522.17L1043.26 527.02L1043.66 531.97L1044.05 536.91L1044.45 541.81L1044.84 546.62L1045.24 551.28L1045.64 555.76L1046.03 559.98L1046.43 563.91L1046.82 567.49L1047.22 570.65L1047.62 573.36L1048.01 575.54L1048.41 577.16L1048.80 578.16L1049.20 578.50L1049.60 578.27L1049.99 577.58L1050.38 576.47L1050.78 574.93L1051.17 573.00L1051.57 570.69L1051.97 568.02L1052.36 565.01L1052.76 561.68L1053.15 558.06L1053.55 554.15L1053.94 549.99L1054.34 545.59L1054.73 540.97L1055.12 536.15L1055.52 531.15L1055.91 525.99L1056.31 520.86L1056.71 515.80L1057.10 510.76L1057.50 505.68L1057.89 500.50L1058.29 495.16L1058.68 489.57L1059.08 483.65L1059.47 477.31L1059.87 470.47L1060.26 463.02L1060.65 454.91L1061.05 446.21L1061.45 437.01L1061.84 427.38L1062.24 417.45L1062.63 407.31L1063.03 397.09L1063.42 386.91L1063.82 376.87L1064.21 367.09L1064.61 357.68L1065.00 348.72L1065.39 340.30L1065.79 332.48L1066.19 325.31L1066.58 318.72L1066.98 312.52L1067.37 306.73L1067.77 301.35L1068.16 296.38L1068.56 291.84L1068.95 287.73L1069.35 284.03L1069.74 280.76L1070.13 277.91L1070.53 275.48L1070.93 273.44L1071.32 271.81L1071.72 270.56L1072.11 269.68L1072.51 269.17L1072.90 269.00L1073.30 269.25L1073.69 270.02L1074.09 271.30L1074.49 273.09L1074.89 275.39L1075.28 278.21L1075.68 281.54L1076.08 285.39L1076.48 289.74L1076.87 294.59L1077.27 299.94L1077.67 305.79L1078.06 312.13L1078.46 318.94L1078.86 326.22L1079.26 333.71L1079.65 341.32L1080.05 349.11L1080.45 357.14L1080.84 365.47L1081.24 374.19L1081.64 383.42L1082.04 393.26L1082.43 403.85L1082.83 415.31L1083.23 427.82L1083.62 441.51L1084.02 456.57L1084.42 473.45L1084.82 495.94L1085.21 522.24L1085.61 548.21L1086.01 569.37L1086.41 585.57L1086.80 599.77L1087.20 612.48L1087.60 624.25L1087.99 635.61L1088.39 647.13L1088.79 659.35L1089.19 672.80L1089.58 687.90L1089.98 703.64L1090.38 718.50L1090.78 732.57L1091.17 746.13L1091.57 759.35L1091.97 772.37L1092.36 785.34L1092.76 798.37L1093.16 811.39L1093.56 824.23L1093.95 836.82L1094.35 849.09L1094.75 860.97L1095.14 872.42L1095.54 883.36L1095.94 893.74L1096.34 903.53L1096.73 912.66L1097.13 921.11L1097.53 928.85L1097.92 935.86L1098.32 942.10L1098.72 947.59L1099.12 952.31L1099.51 956.29L1099.91 959.54L1100.31 962.06L1100.71 963.86L1101.10 964.94L1101.50 965.30L1101.90 964.92L1102.30 963.77L1102.69 961.90L1103.09 959.31L1103.49 956.07L1103.88 952.22L1104.28 947.84L1104.68 943.08L1105.08 937.96L1105.47 932.53L1105.87 926.78L1106.27 920.71L1106.67 914.31L1107.07 907.53L1107.46 900.34L1107.86 892.67L1108.26 884.47L1108.65 875.65L1109.05 866.12L1109.45 855.80L1109.85 844.57L1110.24 832.32L1110.64 818.94L1111.04 804.28L1111.44 787.35L1111.84 765.51L1112.23 741.19L1112.63 717.77L1113.03 698.91L1113.42 683.68L1113.82 669.54L1114.22 656.37L1114.62 644.08L1115.01 632.53L1115.41 621.61L1115.81 611.18L1116.21 601.09L1116.61 591.22L1117.00 581.43L1117.40 571.57L1117.80 561.51L1118.19 551.12L1118.59 540.57L1118.99 530.50L1119.39 520.76L1119.79 511.20L1120.18 501.64L1120.58 491.92L1120.98 481.89L1121.38 471.41L1121.77 460.36L1122.17 448.77L1122.57 436.82L1122.96 424.64L1123.36 412.40L1123.76 400.24L1124.16 388.29L1124.56 376.69L1124.95 365.55L1125.35 354.97L1125.75 345.04L1126.14 335.81L1126.54 327.34L1126.94 319.60L1127.34 312.37L1127.73 305.64L1128.13 299.39L1128.53 293.64L1128.93 288.38L1129.33 283.61L1129.72 279.32L1130.12 275.52L1130.52 272.20L1130.91 269.36L1131.31 266.97L1131.71 265.04L1132.11 263.56L1132.50 262.52L1132.90 261.90L1133.30 261.70L1133.70 261.99L1134.09 262.82L1134.49 264.18L1134.88 266.00L1135.28 268.26L1135.68 270.91L1136.07 273.90L1136.47 277.18L1136.86 280.71L1137.26 284.44L1137.66 288.32L1138.05 292.31L1138.45 296.37L1138.84 300.46L1139.24 304.55L1139.63 308.60L1140.03 312.59L1140.43 316.48L1140.82 320.27L1141.22 323.91L1141.61 327.37L1142.01 330.59L1142.41 333.60L1142.80 336.43L1143.20 339.10L1143.59 341.65L1143.99 344.11L1144.39 346.50L1144.78 348.85L1145.18 351.19L1145.57 353.55L1145.97 355.94L1146.37 358.38L1146.76 360.90L1147.16 363.49L1147.55 366.16L1147.95 368.87L1148.34 371.55L1148.74 374.18L1149.14 376.72L1149.53 379.13L1149.93 381.39L1150.32 383.45L1150.72 385.27L1151.12 386.83L1151.51 388.09L1151.91 389.03L1152.30 389.60L1152.70 389.80L1153.09 389.77L1153.48 389.66L1153.87 389.50L1154.27 389.27L1154.66 388.98L1155.05 388.64L1155.44 388.25L1155.83 387.83L1156.22 387.37L1156.61 386.89L1157.00 386.40L1157.40 385.90L1157.79 385.41L1158.18 384.93L1158.57 384.47L1158.96 384.05L1159.35 383.66L1159.74 383.32L1160.13 383.03L1160.53 382.80L1160.92 382.64L1161.31 382.53L1161.70 382.50L1162.10 382.55L1162.49 382.70L1162.89 382.97L1163.28 383.38L1163.68 383.96L1164.08 384.71L1164.47 385.65L1164.87 386.81L1165.27 388.19L1165.66 389.82L1166.06 391.69L1166.45 393.83L1166.85 396.24L1167.25 398.94L1167.64 401.92L1168.04 405.19L1168.44 408.76L1168.83 412.82L1169.23 417.41L1169.62 422.54L1170.02 428.22L1170.42 434.43L1170.81 441.14L1171.21 448.32L1171.61 455.92L1172.00 463.89L1172.40 472.22L1172.79 481.21L1173.19 490.81L1173.59 500.87L1173.98 511.23L1174.38 521.68L1174.77 532.07L1175.17 542.48L1175.57 552.96L1175.96 563.50L1176.36 574.12L1176.76 584.84L1177.15 595.65L1177.55 606.58L1177.94 617.61L1178.34 628.68L1178.74 639.76L1179.13 650.83L1179.53 661.88L1179.93 672.89L1180.32 683.85L1180.72 694.75L1181.11 705.54L1181.51 716.21L1181.91 726.72L1182.30 737.07L1182.70 747.26L1183.09 757.27L1183.49 767.08L1183.89 776.70L1184.28 786.09L1184.68 795.26L1185.08 804.18L1185.47 812.80L1185.87 821.11L1186.26 829.09L1186.66 836.72L1187.06 843.98L1187.45 850.87L1187.85 857.36L1188.25 863.44L1188.64 869.09L1189.04 874.31L1189.43 879.08L1189.83 883.39L1190.23 887.22L1190.62 890.57L1191.02 893.42L1191.42 895.77L1191.81 897.61L1192.21 898.94L1192.60 899.73L1193.00 900.00L1193.40 899.76L1193.79 899.03L1194.19 897.80L1194.59 896.08L1194.99 893.84L1195.38 891.09L1195.78 887.83L1196.18 884.05L1196.58 879.75L1196.97 874.93L1197.37 869.60L1197.77 863.76L1198.16 857.40L1198.56 850.55L1198.96 843.20L1199.36 835.36L1199.75 827.05L1200.15 818.27L1200.55 809.04L1200.95 799.37L1201.34 789.28L1201.74 778.78L1202.14 767.86L1202.53 756.51L1202.93 744.71L1203.33 732.46L1203.73 719.73L1204.12 706.51L1204.52 692.76L1204.92 678.27L1205.32 663.04L1205.71 647.20L1206.11 630.86L1206.51 614.18L1206.90 597.30L1207.30 580.37L1207.70 563.53L1208.10 546.96L1208.49 530.78L1208.89 515.14L1209.29 500.17L1209.68 486.00L1210.08 472.73L1210.48 460.36L1210.88 448.75L1211.27 437.79L1211.67 427.36L1212.07 417.36L1212.47 407.67L1212.86 398.20L1213.26 388.84L1213.66 379.53L1214.05 370.19L1214.45 360.75L1214.85 351.18L1215.25 341.50L1215.64 332.01L1216.04 322.77L1216.44 313.81L1216.84 305.18L1217.23 296.92L1217.63 289.07L1218.03 281.67L1218.42 274.77L1218.82 268.41L1219.22 262.64L1219.62 257.49L1220.01 253.02L1220.41 249.27L1220.81 246.28L1221.21 244.10L1221.60 242.76L1222.00 242.30L1222.39 242.59L1222.79 243.45L1223.18 244.90L1223.57 246.95L1223.97 249.60L1224.36 252.85L1224.75 256.70L1225.15 261.16L1225.54 266.20L1225.94 271.83L1226.33 278.04L1226.72 284.81L1227.12 292.12L1227.51 299.96L1227.90 308.35L1228.30 317.63L1228.69 327.76L1229.08 338.49L1229.48 349.58L1229.87 360.73L1230.26 371.60L1230.66 381.85L1231.05 391.16L1231.45 399.55L1231.84 407.27L1232.23 414.47L1232.63 421.28L1233.02 427.88L1233.41 434.42L1233.81 441.08L1234.20 448.01L1234.59 455.39L1234.99 463.38L1235.38 472.15L1235.77 481.90L1236.17 492.38L1236.56 503.25L1236.95 514.18L1237.35 524.85L1237.74 534.97L1238.14 544.30L1238.53 552.62L1238.92 560.12L1239.32 567.01L1239.71 573.41L1240.10 579.41L1240.50 585.14L1240.89 590.66L1241.28 596.05L1241.68 601.38L1242.07 606.67L1242.46 611.94L1242.86 617.15L1243.25 622.15L1243.65 626.84L1244.04 631.14L1244.43 634.98L1244.83 638.27L1245.22 640.95L1245.61 642.94L1246.01 644.18L1246.40 644.60L1246.80 644.35L1247.19 643.61L1247.59 642.40L1247.99 640.73L1248.38 638.61L1248.78 636.08L1249.18 633.13L1249.57 629.80L1249.97 626.10L1250.37 622.06L1250.76 617.70L1251.16 613.04L1251.56 608.17L1251.95 603.15L1252.35 597.96L1252.75 592.60L1253.14 587.05L1253.54 581.27L1253.94 575.23L1254.33 568.89L1254.73 562.21L1255.13 555.15L1255.52 547.63L1255.92 539.56L1256.32 530.99L1256.71 522.04L1257.11 512.85L1257.51 503.55L1257.90 494.29L1258.30 485.21L1258.69 476.46L1259.09 468.17L1259.49 460.23L1259.88 452.45L1260.28 444.85L1260.68 437.46L1261.07 430.30L1261.47 423.38L1261.87 416.74L1262.26 410.38L1262.66 404.32L1263.06 398.58L1263.45 393.16L1263.85 388.07L1264.25 383.32L1264.64 378.93L1265.04 374.88L1265.44 371.19L1265.83 367.85L1266.23 364.86L1266.63 362.22L1267.02 359.92L1267.42 357.96L1267.82 356.34L1268.21 355.03L1268.61 354.04L1269.01 353.34L1269.40 352.93L1269.80 352.80L1270.20 353.03L1270.60 353.72L1271.00 354.85L1271.39 356.42L1271.79 358.43L1272.19 360.85L1272.59 363.68L1272.99 366.91L1273.39 370.51L1273.78 374.49L1274.18 378.82L1274.58 383.49L1274.98 388.48L1275.38 393.78L1275.78 399.36L1276.17 405.22L1276.57 411.34L1276.97 417.69L1277.37 424.26L1277.77 431.04L1278.17 437.99L1278.57 445.11L1278.96 452.37L1279.36 459.76L1279.76 467.26L1280.16 474.87L1280.56 482.59L1280.96 490.37L1281.35 498.13L1281.75 505.82L1282.15 513.37L1282.55 520.73L1282.95 527.85L1283.35 534.65L1283.75 541.14L1284.14 547.36L1284.54 553.37L1284.94 559.23L1285.34 564.97L1285.74 570.67L1286.14 576.35L1286.53 582.06L1286.93 587.84L1287.33 593.70L1287.73 599.53L1288.13 605.23L1288.53 610.80L1288.92 616.22L1289.32 621.46L1289.72 626.51L1290.12 631.35L1290.52 635.96L1290.92 640.32L1291.32 644.41L1291.71 648.20L1292.11 651.68L1292.51 654.83L1292.91 657.63L1293.31 660.04L1293.71 662.07L1294.10 663.67L1294.50 664.84L1294.90 665.56L1295.30 665.80L1295.69 665.54L1296.09 664.76L1296.48 663.50L1296.87 661.78L1297.27 659.64L1297.66 657.11L1298.06 654.23L1298.45 651.04L1298.84 647.59L1299.24 643.90L1299.63 640.03L1300.02 636.00L1300.42 631.87L1300.81 627.65L1301.20 623.40L1301.60 619.15L1301.99 614.91L1302.39 610.72L1302.78 606.59L1303.17 602.53L1303.57 598.56L1303.96 594.70L1304.35 590.95L1304.75 587.34L1305.14 583.86L1305.53 580.53L1305.93 577.36L1306.32 574.34L1306.71 571.48L1307.11 568.78L1307.50 566.26L1307.90 563.90L1308.29 561.70L1308.68 559.68L1309.08 557.82L1309.47 556.14L1309.86 554.62L1310.26 553.27L1310.65 552.08L1311.04 551.05L1311.44 550.18L1311.83 549.46L1312.23 548.88L1312.62 548.44L1313.01 548.14L1313.41 547.96L1313.80 547.90L1314.20 547.99L1314.59 548.29L1314.99 548.80L1315.38 549.56L1315.78 550.58L1316.18 551.88L1316.57 553.48L1316.97 555.38L1317.36 557.60L1317.76 560.15L1318.16 563.04L1318.55 566.25L1318.95 569.80L1319.34 573.71L1319.74 578.10L1320.14 582.97L1320.53 588.30L1320.93 594.04L1321.32 600.14L1321.72 606.52L1322.12 613.13L1322.51 619.86L1322.91 626.65L1323.30 633.38L1323.70 640.11L1324.10 647.01L1324.49 653.97L1324.89 660.87L1325.28 667.61L1325.68 674.06L1326.08 680.13L1326.47 685.74L1326.87 690.83L1327.26 695.36L1327.66 699.31L1328.06 702.86L1328.45 706.10L1328.85 709.04L1329.24 711.66L1329.64 713.98L1330.04 716.01L1330.43 717.74L1330.83 719.20L1331.22 720.39L1331.62 721.35L1332.02 722.08L1332.41 722.60L1332.81 722.95L1333.20 723.14L1333.60 723.20L1334.00 723.20L1334.40 723.17L1334.80 723.04L1335.19 722.72L1335.59 722.08L1335.99 720.99L1336.39 719.32L1336.79 716.93L1337.19 713.71L1337.59 709.56L1337.98 704.40L1338.38 698.20L1338.78 690.94L1339.18 682.67L1339.58 671.25L1339.98 653.12L1340.38 635.76L1340.78 623.43L1341.17 611.90L1341.57 601.15L1341.97 591.07L1342.37 581.55L1342.77 572.39L1343.17 563.40L1343.57 554.35L1343.96 544.99L1344.36 535.05L1344.76 524.37L1345.16 513.75L1345.56 503.23L1345.96 492.58L1346.36 481.54L1346.75 469.85L1347.15 457.59L1347.55 444.97L1347.95 432.03L1348.35 418.81L1348.75 405.34L1349.15 391.67L1349.55 377.84L1349.94 363.89L1350.34 349.87L1350.74 335.83L1351.14 321.81L1351.54 307.86L1351.94 294.03L1352.34 280.36L1352.73 266.91L1353.13 253.72L1353.53 240.83L1353.93 228.28L1354.33 216.11L1354.73 204.28L1355.13 192.79L1355.52 181.68L1355.92 170.97L1356.32 160.69L1356.72 150.86L1357.12 141.52L1357.52 132.68L1357.92 124.37L1358.32 116.61L1358.71 109.44L1359.11 102.86L1359.51 96.91L1359.91 91.59L1360.31 86.94L1360.71 82.96L1361.11 79.67L1361.50 77.10L1361.90 75.24L1362.30 74.13L1362.70 73.75L1363.10 74.01L1363.49 74.79L1363.89 76.13L1364.28 78.04L1364.68 80.56L1365.08 83.70L1365.47 87.48L1365.87 91.93L1366.27 97.05L1366.66 102.86L1367.06 109.38L1367.45 116.60L1367.85 124.54L1368.25 133.20L1368.64 142.58L1369.04 152.68L1369.44 163.49L1369.83 175.00L1370.23 187.21L1370.62 200.09L1371.02 213.64L1371.42 227.97L1371.81 243.69L1372.21 260.79L1372.61 279.08L1373.00 298.38L1373.40 318.45L1373.79 339.04L1374.19 359.84L1374.59 380.58L1374.98 400.94L1375.38 420.61L1375.77 439.30L1376.17 456.71L1376.57 472.56L1376.96 486.75L1377.36 499.62L1377.76 511.59L1378.15 523.07L1378.55 534.51L1378.94 546.30L1379.34 558.86L1379.74 572.58L1380.13 587.99L1380.53 604.64L1380.93 621.63L1381.32 638.12L1381.72 653.32L1382.11 666.57L1382.51 678.47L1382.91 690.39L1383.30 703.61L1383.70 718.70L1384.09 734.85L1384.49 751.12L1384.89 766.67L1385.28 780.81L1385.68 793.01L1386.08 803.06L1386.47 812.22L1386.87 820.75L1387.26 828.65L1387.66 835.91L1388.06 842.54L1388.45 848.53L1388.85 853.91L1389.25 858.69L1389.64 862.88L1390.04 866.52L1390.43 869.63L1390.83 872.25L1391.23 874.41L1391.62 876.15L1392.02 877.50L1392.42 878.51L1392.81 879.23L1393.21 879.68L1393.60 879.93L1394.00 880.00L1394.40 879.78L1394.80 879.12L1395.20 878.01L1395.59 876.47L1395.99 874.49L1396.39 872.07L1396.79 869.22L1397.19 865.94L1397.59 862.24L1397.99 858.12L1398.39 853.58L1398.78 848.64L1399.18 843.29L1399.58 837.55L1399.98 831.43L1400.38 824.93L1400.78 818.05L1401.18 810.82L1401.58 803.23L1401.97 795.27L1402.37 786.66L1402.77 777.48L1403.17 767.88L1403.57 758.04L1403.97 748.18L1404.37 738.51L1404.76 729.28L1405.16 720.74L1405.56 713.09L1405.96 706.13L1406.36 699.58L1406.76 693.09L1407.16 686.32L1407.56 678.92L1407.95 670.56L1408.35 661.56L1408.75 652.42L1409.15 643.69L1409.55 635.90L1409.95 629.42L1410.35 623.67L1410.74 617.82L1411.14 611.68L1411.54 605.73L1411.94 600.52L1412.34 596.18L1412.74 592.27L1413.14 588.38L1413.54 584.46L1413.93 580.59L1414.33 576.67L1414.73 572.41L1415.13 567.93L1415.53 564.25L1415.93 561.82L1416.33 559.91L1416.72 558.26L1417.12 556.67L1417.52 554.89L1417.92 552.66L1418.32 550.39L1418.72 548.82L1419.12 548.03L1419.52 547.36L1419.91 546.80L1420.31 546.33L1420.71 545.93L1421.11 545.58L1421.51 545.28L1421.91 544.99L1422.31 544.76L1422.71 544.58L1423.10 544.44L1423.50 544.31L1423.90 544.16L1424.30 543.98L1424.70 543.74L1425.10 543.39L1425.50 542.52L1425.89 541.21L1426.29 539.77L1426.69 538.49L1427.09 537.65L1427.49 537.04L1427.89 536.56L1428.29 536.14L1428.69 535.72L1429.08 535.23L1429.48 534.61L1429.88 533.79L1430.28 532.44L1430.68 530.06L1431.08 527.22L1431.48 524.39L1431.88 521.31L1432.27 517.98L1432.67 514.45L1433.07 510.66L1433.47 506.51L1433.87 502.33L1434.27 498.45L1434.67 494.80L1435.06 490.85L1435.46 485.98L1435.86 479.97L1436.26 473.58L1436.66 467.32L1437.06 461.11L1437.46 454.95L1437.86 448.82L1438.25 442.71L1438.65 436.62L1439.05 430.54L1439.45 424.45L1439.85 418.35L1440.25 412.23L1440.65 406.09L1441.04 399.91L1441.44 393.70L1441.84 387.45L1442.24 381.14L1442.64 374.79L1443.04 368.38L1443.44 361.92L1443.84 355.40L1444.23 348.84L1444.63 342.22L1445.03 335.56L1445.43 328.86L1445.83 322.12L1446.23 315.32L1446.63 308.48L1447.02 301.63L1447.42 294.80L1447.82 288.04L1448.22 281.37L1448.62 274.83L1449.02 268.46L1449.42 262.30L1449.82 256.37L1450.21 250.73L1450.61 245.39L1451.01 240.41L1451.41 235.82L1451.81 231.64L1452.21 227.93L1452.61 224.70L1453.01 222.00L1453.40 219.85L1453.80 218.28L1454.20 217.32L1454.60 217.00L1454.99 217.52L1455.39 219.02L1455.78 221.42L1456.18 224.63L1456.57 228.56L1456.96 233.12L1457.36 238.23L1457.75 243.80L1458.15 249.77L1458.54 256.06L1458.94 262.61L1459.33 269.35L1459.72 276.23L1460.12 283.20L1460.51 290.21L1460.91 296.84L1461.30 303.04L1461.69 309.24L1462.09 315.94L1462.48 323.41L1462.88 331.44L1463.27 340.30L1463.66 349.84L1464.06 359.57L1464.45 369.39L1464.85 379.16L1465.24 388.72L1465.64 397.88L1466.03 406.41L1466.42 414.06L1466.82 420.56L1467.21 425.59L1467.61 428.85L1468.00 430.00"/>
</g>
<text transform="matrix(0.58947 0 0 0.61268 133.742 56.787)" font-family="Liberation Sans" font-size="100" fill="#262626">0</text><ellipse cx="171.55" cy="54.25" rx="3.45" ry="3.45" fill="#262626"/><path fill="#262626" d="M195.81 13.90 L201.05 13.90 L201.05 56.90 L196.11 56.90 L196.11 20.35 L185.60 25.94 L185.60 19.79 Z"/>
<text transform="matrix(0.58947 0 0 0.61831 101.642 303.082)" font-family="Liberation Sans" font-size="100" fill="#262626">0</text><ellipse cx="139.65" cy="300.20" rx="3.45" ry="3.50" fill="#262626"/><text transform="matrix(0.58947 0 0 0.61831 148.542 303.082)" font-family="Liberation Sans" font-size="100" fill="#262626">0</text><text transform="matrix(0.50526 0 0 0.61143 182.979 303.089)" font-family="Liberation Sans" font-size="100" fill="#262626">5</text>
<text transform="matrix(0.57895 0 0 0.61549 181.184 549.185)" font-family="Liberation Sans" font-size="100" fill="#262626">0</text>
<text transform="matrix(0.67347 0 0 0.53750 84.869 791.894)" font-family="Liberation Sans" font-size="100" fill="#262626">-</text><text transform="matrix(0.59368 0 0 0.61479 101.725 795.035)" font-family="Liberation Sans" font-size="100" fill="#262626">0</text><ellipse cx="139.45" cy="792.17" rx="3.55" ry="3.47" fill="#262626"/><text transform="matrix(0.58737 0 0 0.61479 148.751 795.035)" font-family="Liberation Sans" font-size="100" fill="#262626">0</text><text transform="matrix(0.50737 0 0 0.60929 182.871 795.041)" font-family="Liberation Sans" font-size="100" fill="#262626">5</text>
<text transform="matrix(0.66531 0 0 0.50000 115.806 1037.250)" font-family="Liberation Sans" font-size="100" fill="#262626">-</text><text transform="matrix(0.59579 0 0 0.61831 133.617 1041.082)" font-family="Liberation Sans" font-size="100" fill="#262626">0</text><ellipse cx="171.45" cy="1038.25" rx="3.65" ry="3.45" fill="#262626"/><path fill="#262626" d="M195.64 997.80 L200.90 997.80 L200.90 1040.90 L195.94 1040.90 L195.94 1004.26 L185.80 1009.87 L185.80 1003.70 Z"/>
<text transform="matrix(0.57447 0 0 0.61831 398.415 1094.282)" font-family="Liberation Sans" font-size="100" fill="#262626">8</text><text transform="matrix(0.58737 0 0 0.61831 428.651 1094.282)" font-family="Liberation Sans" font-size="100" fill="#262626">0</text><text transform="matrix(0.58737 0 0 0.61831 459.551 1094.282)" font-family="Liberation Sans" font-size="100" fill="#262626">0</text>
<path fill="#262626" d="M656.74 1050.70 L662.00 1050.70 L662.00 1093.80 L657.04 1093.80 L657.04 1057.16 L646.80 1062.77 L646.80 1056.60 Z"/><text transform="matrix(0.58737 0 0 0.61831 671.851 1093.982)" font-family="Liberation Sans" font-size="100" fill="#262626">0</text><text transform="matrix(0.58737 0 0 0.61831 702.851 1093.982)" font-family="Liberation Sans" font-size="100" fill="#262626">0</text><text transform="matrix(0.58737 0 0 0.61831 733.751 1093.982)" font-family="Liberation Sans" font-size="100" fill="#262626">0</text>
<path fill="#262626" d="M915.74 1050.70 L921.00 1050.70 L921.00 1093.80 L916.04 1093.80 L916.04 1057.16 L905.70 1062.77 L905.70 1056.60 Z"/><text transform="matrix(0.59780 0 0 0.61571 930.911 1093.800)" font-family="Liberation Sans" font-size="100" fill="#262626">2</text><text transform="matrix(0.58947 0 0 0.61831 961.742 1093.982)" font-family="Liberation Sans" font-size="100" fill="#262626">0</text><text transform="matrix(0.58316 0 0 0.61831 992.767 1093.982)" font-family="Liberation Sans" font-size="100" fill="#262626">0</text>
<path fill="#262626" d="M1174.74 1050.70 L1180.00 1050.70 L1180.00 1093.80 L1175.04 1093.80 L1175.04 1057.16 L1164.70 1062.77 L1164.70 1056.60 Z"/><text transform="matrix(0.64000 0 0 0.60580 1188.300 1093.800)" font-family="Liberation Sans" font-size="100" fill="#262626">4</text><text transform="matrix(0.58737 0 0 0.61831 1220.751 1093.982)" font-family="Liberation Sans" font-size="100" fill="#262626">0</text><text transform="matrix(0.58737 0 0 0.61831 1251.751 1093.982)" font-family="Liberation Sans" font-size="100" fill="#262626">0</text>
<text transform="matrix(0.62429 0 0 0.60405 653.501 1172.596)" font-family="Liberation Sans" font-style="normal" font-size="100" fill="#262626" >Time</text>
<text transform="matrix(0.61515 0 0 0.60405 805.594 1172.596)" font-family="Liberation Sans" font-style="normal" font-size="100" fill="#262626" >index</text>
<text transform="matrix(0.53462 0 0 0.62444 970.862 1171.587)" font-family="Liberation Serif" font-style="normal" font-size="100" fill="#262626" >(</text>
<text transform="matrix(0.54615 0 0 0.61667 1020.762 1169.750)" font-family="Liberation Serif" font-style="normal" font-size="100" fill="#262626" >)</text>
<text transform="matrix(0.70714 0 0 0.57447 990.586 1171.926)" font-family="Liberation Serif" font-style="italic" font-size="100" fill="#262626" >ν</text>
<text transform="matrix(0 -0.60791 0.62838 0 58.872 743.040)" font-family="Liberation Sans" font-size="100" fill="#262626">Sound</text>
<text transform="matrix(0 -0.61640 0.60000 0 57.400 550.315)" font-family="Liberation Sans" font-size="100" fill="#262626">pressure</text>
<rect x="767" y="798" width="657" height="154" fill="#fff"/>
<g fill="#101010" shape-rendering="crispEdges"><rect x="767" y="798" width="657" height="2"/><rect x="767" y="950" width="657" height="2"/><rect x="767" y="798" width="2" height="154"/><rect x="1422" y="798" width="2" height="154"/></g>
<path d="M778 839.7H882.9" stroke="#0072BD" stroke-width="2" shape-rendering="crispEdges"/>
<path d="M778 910.3H882.9" stroke="#D95319" stroke-width="2" shape-rendering="crispEdges"/>
<text transform="matrix(0.55540 0 0 0.53514 890.557 861.265)" font-family="Liberation Sans" font-style="normal" font-size="100" fill="#000" >Reconstructed</text>
<text transform="matrix(0.55317 0 0 0.53617 1265.340 861.340)" font-family="Liberation Sans" font-style="normal" font-size="100" fill="#000" >signal</text>
<text transform="matrix(0.55485 0 0 0.53784 890.561 932.362)" font-family="Liberation Sans" font-style="normal" font-size="100" fill="#000" >Desired</text>
<text transform="matrix(0.55595 0 0 0.53511 1097.232 932.363)" font-family="Liberation Sans" font-style="normal" font-size="100" fill="#000" >signal</text>
<rect x="428" y="113" width="193" height="112" fill="#C8C8C8" shape-rendering="crispEdges"/><rect x="430" y="115" width="189" height="108" fill="#FDFDEE" shape-rendering="crispEdges"/><rect x="396" y="82" width="31" height="30" fill="#FDFDEE" shape-rendering="crispEdges"/><rect x="401" y="86" width="21" height="22" fill="#999999" shape-rendering="crispEdges"/><text transform="matrix(0.37561 0 0 0.36522 437.773 161.200)" font-family="Liberation Sans" font-style="normal" font-size="100" fill="#000" >X:</text><text transform="matrix(0.34906 0 0 0.37059 481.455 161.571)" font-family="Liberation Sans" font-style="normal" font-size="100" fill="#000" >774</text><text transform="matrix(0.39610 0 0 0.36232 438.012 205.900)" font-family="Liberation Sans" font-style="normal" font-size="100" fill="#000" >Y:</text><text transform="matrix(0.34783 0 0 0.35775 481.609 205.742)" font-family="Liberation Sans" font-style="normal" font-size="100" fill="#000" >0.0874</text><path fill="#000" d="M597.00 181.00 L600.00 181.00 L600.00 206.00 L597.00 206.00 L597.00 186.50 L591.00 190.00 L591.00 187.00 Z"/>
<rect x="780" y="110" width="193" height="111" fill="#C8C8C8" shape-rendering="crispEdges"/><rect x="782" y="112" width="189" height="107" fill="#FDFDEE" shape-rendering="crispEdges"/><rect x="748" y="78" width="31" height="30" fill="#FDFDEE" shape-rendering="crispEdges"/><rect x="753" y="83" width="21" height="21" fill="#999999" shape-rendering="crispEdges"/><text transform="matrix(0.37439 0 0 0.35362 789.877 157.600)" font-family="Liberation Sans" font-style="normal" font-size="100" fill="#000" >X:</text><text transform="matrix(0.35570 0 0 0.34930 852.477 157.451)" font-family="Liberation Sans" font-style="normal" font-size="100" fill="#000" >046</text><text transform="matrix(0.39870 0 0 0.35652 789.804 201.800)" font-family="Liberation Sans" font-style="normal" font-size="100" fill="#000" >Y:</text><text transform="matrix(0.34959 0 0 0.35352 833.902 201.746)" font-family="Liberation Sans" font-style="normal" font-size="100" fill="#000" >0.088</text><text transform="matrix(0.33529 0 0 0.36618 940.229 202.266)" font-family="Liberation Sans" font-style="normal" font-size="100" fill="#000" >4</text><path fill="#000" d="M843.00 133.00 L846.00 133.00 L846.00 158.00 L843.00 158.00 L843.00 138.50 L836.80 142.00 L836.80 139.00 Z"/><path fill="#000" d="M930.00 177.00 L933.00 177.00 L933.00 202.00 L930.00 202.00 L930.00 182.50 L924.00 186.00 L924.00 183.00 Z"/>
</svg></body></html>
